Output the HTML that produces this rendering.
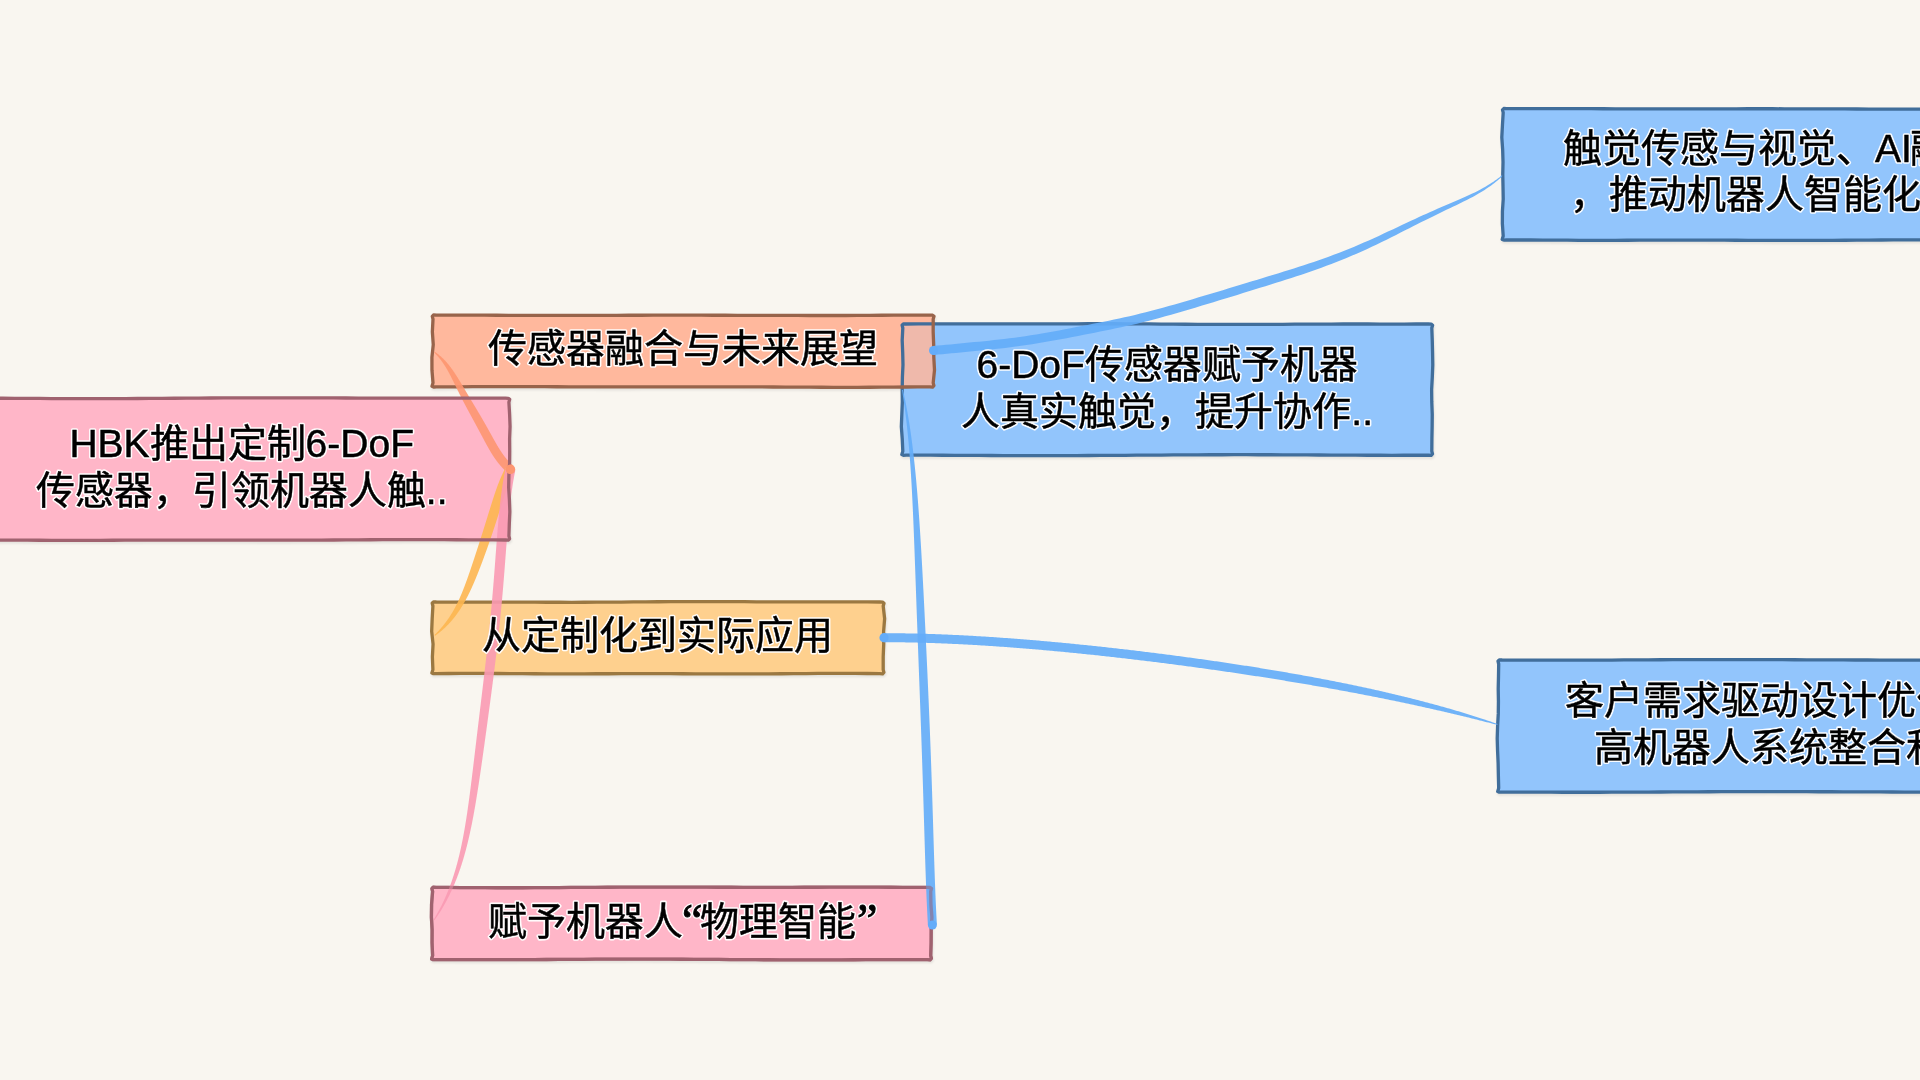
<!DOCTYPE html><html lang="zh-CN"><head><meta charset="utf-8"><title>mindmap</title><style>html,body{margin:0;padding:0;background:#f9f6f0;width:1920px;height:1080px;overflow:hidden}svg{display:block;will-change:transform}</style></head><body>
<svg width="1920" height="1080" viewBox="0 0 1920 1080">
<defs><filter id="blur" x="-5%" y="-20%" width="110%" height="140%"><feGaussianBlur stdDeviation="1"/></filter></defs>
<rect width="1920" height="1080" fill="#f9f6f0"/>
<path d="M-22.00,398.20 L-9.73,398.22 L2.53,398.25 L14.80,398.30 L27.07,398.37 L39.34,398.45 L51.60,398.54 L63.87,398.63 L76.14,398.66 L88.41,398.66 L100.67,398.65 L112.94,398.62 L125.21,398.57 L137.48,398.51 L149.74,398.44 L162.01,398.36 L174.28,398.27 L186.55,398.18 L198.81,398.10 L211.08,398.02 L223.35,397.95 L235.62,397.89 L247.88,397.85 L260.15,397.82 L272.42,397.81 L284.69,397.82 L296.95,397.83 L309.22,397.86 L321.49,397.90 L333.76,397.94 L346.02,397.99 L358.29,398.03 L370.56,398.08 L382.83,398.11 L395.09,398.14 L407.36,398.16 L419.63,398.17 L431.90,398.17 L444.16,398.18 L456.43,398.17 L468.70,398.18 L480.97,398.18 L493.23,398.19 L505.50,398.20 L508.30,398.30 L509.70,399.40 L508.90,402.20 L509.61,414.36 L510.07,426.53 L509.60,438.69 L509.71,450.85 L509.63,463.02 L508.89,475.18 L508.66,487.35 L509.40,499.51 L509.85,511.67 L509.31,523.84 L508.90,536.00 L509.60,538.80 L508.30,540.20 L505.50,540.00 L493.23,539.96 L480.97,539.90 L468.70,539.83 L456.43,539.74 L444.16,539.66 L431.90,539.60 L419.63,539.55 L407.36,539.58 L395.09,539.63 L382.83,539.69 L370.56,539.77 L358.29,539.84 L346.02,539.91 L333.76,539.98 L321.49,540.04 L309.22,540.08 L296.95,540.11 L284.69,540.13 L272.42,540.13 L260.15,540.13 L247.88,540.11 L235.62,540.09 L223.35,540.08 L211.08,540.06 L198.81,540.05 L186.55,540.05 L174.28,540.06 L162.01,540.08 L149.74,540.12 L137.48,540.16 L125.21,540.20 L112.94,540.25 L100.67,540.30 L88.41,540.34 L76.14,540.37 L63.87,540.37 L51.60,540.32 L39.34,540.25 L27.07,540.18 L14.80,540.11 L2.53,540.06 L-9.73,540.02 L-22.00,540.00 L-24.80,540.10 L-26.40,539.40 L-25.40,536.00 L-25.75,523.84 L-26.17,511.67 L-26.14,499.51 L-25.43,487.35 L-25.12,475.18 L-25.75,463.02 L-26.22,450.85 L-26.05,438.69 L-26.18,426.53 L-26.14,414.36 L-25.40,402.20 L-26.10,399.40 L-24.80,398.00Z" fill="none" stroke="#000" stroke-opacity="0.09" stroke-width="3" transform="translate(0.8,2)" filter="url(#blur)"/>
<path d="M906.20,324.00 L918.34,323.94 L930.49,323.89 L942.63,323.84 L954.78,323.82 L966.92,323.82 L979.07,323.83 L991.21,323.86 L1003.35,323.90 L1015.50,323.92 L1027.64,323.93 L1039.79,323.91 L1051.93,323.88 L1064.07,323.84 L1076.22,323.80 L1088.36,323.77 L1100.51,323.76 L1112.65,323.77 L1124.80,323.80 L1136.94,323.86 L1149.08,323.94 L1161.23,324.03 L1173.37,324.13 L1185.52,324.24 L1197.66,324.33 L1209.80,324.40 L1221.95,324.45 L1234.09,324.47 L1246.24,324.46 L1258.38,324.42 L1270.53,324.36 L1282.67,324.29 L1294.81,324.22 L1306.96,324.14 L1319.10,324.08 L1331.25,324.04 L1343.39,324.02 L1355.53,324.01 L1367.68,324.02 L1379.82,324.03 L1391.97,324.04 L1404.11,324.03 L1416.26,324.02 L1428.40,324.00 L1431.20,324.10 L1432.60,325.20 L1431.80,328.00 L1432.26,340.32 L1432.56,352.64 L1432.78,364.96 L1432.30,377.28 L1431.62,389.60 L1431.77,401.92 L1432.25,414.24 L1432.14,426.56 L1431.90,438.88 L1431.80,451.20 L1432.50,454.00 L1431.20,455.40 L1428.40,455.20 L1416.26,455.23 L1404.11,455.26 L1391.97,455.28 L1379.82,455.27 L1367.68,455.25 L1355.53,455.20 L1343.39,455.14 L1331.25,455.06 L1319.10,454.99 L1306.96,454.92 L1294.81,454.85 L1282.67,454.80 L1270.53,454.76 L1258.38,454.73 L1246.24,454.71 L1234.09,454.72 L1221.95,454.74 L1209.80,454.77 L1197.66,454.82 L1185.52,454.89 L1173.37,454.96 L1161.23,455.04 L1149.08,455.12 L1136.94,455.21 L1124.80,455.29 L1112.65,455.37 L1100.51,455.44 L1088.36,455.50 L1076.22,455.55 L1064.07,455.58 L1051.93,455.60 L1039.79,455.60 L1027.64,455.59 L1015.50,455.57 L1003.35,455.54 L991.21,455.49 L979.07,455.41 L966.92,455.34 L954.78,455.28 L942.63,455.24 L930.49,455.22 L918.34,455.20 L906.20,455.20 L903.40,455.30 L901.80,454.60 L902.80,451.20 L902.25,438.88 L901.33,426.56 L901.83,414.24 L902.33,401.92 L902.20,389.60 L902.41,377.28 L902.98,364.96 L902.70,352.64 L902.19,340.32 L902.80,328.00 L902.10,325.20 L903.40,323.80Z" fill="none" stroke="#000" stroke-opacity="0.09" stroke-width="3" transform="translate(0.8,2)" filter="url(#blur)"/>
<path d="M1506.60,108.70 L1518.68,108.64 L1530.76,108.60 L1542.84,108.57 L1554.92,108.56 L1567.00,108.58 L1579.07,108.62 L1591.15,108.67 L1603.23,108.74 L1615.31,108.79 L1627.39,108.83 L1639.47,108.86 L1651.55,108.88 L1663.63,108.89 L1675.71,108.89 L1687.79,108.87 L1699.87,108.85 L1711.94,108.83 L1724.02,108.81 L1736.10,108.79 L1748.18,108.77 L1760.26,108.77 L1772.34,108.77 L1784.42,108.78 L1796.50,108.80 L1808.58,108.83 L1820.66,108.87 L1832.73,108.91 L1844.81,108.95 L1856.89,109.00 L1868.97,109.04 L1881.05,109.07 L1893.13,109.09 L1905.21,109.10 L1917.29,109.10 L1929.37,109.08 L1941.45,109.03 L1953.53,108.94 L1965.60,108.86 L1977.68,108.79 L1989.76,108.73 L2001.84,108.70 L2013.92,108.69 L2026.00,108.70 L2028.80,108.80 L2030.20,109.90 L2029.40,112.70 L2029.61,125.03 L2029.11,137.36 L2029.62,149.69 L2030.16,162.02 L2029.97,174.35 L2030.29,186.68 L2030.87,199.01 L2030.33,211.34 L2029.51,223.67 L2029.40,236.00 L2030.10,238.80 L2028.80,240.20 L2026.00,240.00 L2013.92,240.00 L2001.84,239.99 L1989.76,239.97 L1977.68,239.94 L1965.60,239.90 L1953.53,239.85 L1941.45,239.81 L1929.37,239.80 L1917.29,239.81 L1905.21,239.85 L1893.13,239.91 L1881.05,239.99 L1868.97,240.08 L1856.89,240.17 L1844.81,240.25 L1832.73,240.33 L1820.66,240.39 L1808.58,240.42 L1796.50,240.44 L1784.42,240.43 L1772.34,240.39 L1760.26,240.35 L1748.18,240.29 L1736.10,240.23 L1724.02,240.17 L1711.94,240.13 L1699.87,240.10 L1687.79,240.09 L1675.71,240.10 L1663.63,240.13 L1651.55,240.17 L1639.47,240.22 L1627.39,240.27 L1615.31,240.31 L1603.23,240.34 L1591.15,240.34 L1579.07,240.28 L1567.00,240.21 L1554.92,240.14 L1542.84,240.07 L1530.76,240.02 L1518.68,240.00 L1506.60,240.00 L1503.80,240.10 L1502.20,239.40 L1503.20,236.00 L1502.37,223.67 L1502.43,211.34 L1503.23,199.01 L1503.02,186.68 L1502.77,174.35 L1503.03,162.02 L1502.66,149.69 L1501.81,137.36 L1502.46,125.03 L1503.20,112.70 L1502.50,109.90 L1503.80,108.50Z" fill="none" stroke="#000" stroke-opacity="0.09" stroke-width="3" transform="translate(0.8,2)" filter="url(#blur)"/>
<path d="M1502.10,660.00 L1514.28,660.06 L1526.47,660.12 L1538.65,660.17 L1550.83,660.20 L1563.02,660.22 L1575.20,660.21 L1587.39,660.18 L1599.57,660.11 L1611.75,660.03 L1623.94,659.95 L1636.12,659.87 L1648.30,659.80 L1660.49,659.73 L1672.67,659.67 L1684.86,659.62 L1697.04,659.59 L1709.22,659.56 L1721.41,659.56 L1733.59,659.56 L1745.77,659.58 L1757.96,659.61 L1770.14,659.65 L1782.33,659.69 L1794.51,659.75 L1806.69,659.80 L1818.88,659.85 L1831.06,659.90 L1843.24,659.95 L1855.43,659.99 L1867.61,660.02 L1879.80,660.05 L1891.98,660.07 L1904.16,660.08 L1916.35,660.08 L1928.53,660.08 L1940.71,660.07 L1952.90,660.05 L1965.08,660.03 L1977.27,660.02 L1989.45,660.01 L2001.63,660.01 L2013.82,660.00 L2026.00,660.00 L2028.80,660.10 L2030.20,661.20 L2029.40,664.00 L2030.14,676.41 L2030.75,688.82 L2030.24,701.23 L2030.19,713.64 L2030.46,726.05 L2030.02,738.46 L2029.28,750.87 L2029.37,763.28 L2029.66,775.69 L2029.40,788.10 L2030.10,790.90 L2028.80,792.30 L2026.00,792.10 L2013.82,792.08 L2001.63,792.07 L1989.45,792.07 L1977.27,792.07 L1965.08,792.07 L1952.90,792.08 L1940.71,792.08 L1928.53,792.07 L1916.35,792.06 L1904.16,792.03 L1891.98,792.00 L1879.80,791.96 L1867.61,791.92 L1855.43,791.87 L1843.24,791.82 L1831.06,791.77 L1818.88,791.73 L1806.69,791.69 L1794.51,791.66 L1782.33,791.64 L1770.14,791.62 L1757.96,791.63 L1745.77,791.64 L1733.59,791.67 L1721.41,791.70 L1709.22,791.75 L1697.04,791.81 L1684.86,791.87 L1672.67,791.93 L1660.49,792.00 L1648.30,792.06 L1636.12,792.12 L1623.94,792.17 L1611.75,792.21 L1599.57,792.25 L1587.39,792.27 L1575.20,792.25 L1563.02,792.23 L1550.83,792.20 L1538.65,792.17 L1526.47,792.14 L1514.28,792.12 L1502.10,792.10 L1499.30,792.20 L1497.70,791.50 L1498.70,788.10 L1498.38,775.69 L1498.13,763.28 L1497.58,750.87 L1497.21,738.46 L1497.61,726.05 L1498.29,713.64 L1498.44,701.23 L1498.22,688.82 L1498.50,676.41 L1498.70,664.00 L1498.00,661.20 L1499.30,659.80Z" fill="none" stroke="#000" stroke-opacity="0.09" stroke-width="3" transform="translate(0.8,2)" filter="url(#blur)"/>
<path d="M436.30,602.00 L448.62,602.03 L460.94,602.04 L473.26,602.05 L485.58,602.05 L497.90,602.07 L510.22,602.12 L522.54,602.16 L534.86,602.20 L547.17,602.24 L559.49,602.27 L571.81,602.28 L584.13,602.26 L596.45,602.21 L608.77,602.14 L621.09,602.05 L633.41,601.95 L645.73,601.84 L658.05,601.74 L670.37,601.66 L682.69,601.61 L695.01,601.58 L707.33,601.58 L719.65,601.61 L731.97,601.66 L744.29,601.72 L756.61,601.78 L768.92,601.84 L781.24,601.88 L793.56,601.91 L805.88,601.91 L818.20,601.91 L830.52,601.91 L842.84,601.91 L855.16,601.92 L867.48,601.95 L879.80,602.00 L882.60,602.10 L884.00,603.20 L883.20,606.00 L884.64,618.72 L883.61,631.44 L883.72,644.16 L883.20,656.88 L883.20,669.60 L883.90,672.40 L882.60,673.80 L879.80,673.60 L867.48,673.52 L855.16,673.45 L842.84,673.42 L830.52,673.42 L818.20,673.46 L805.88,673.54 L793.56,673.65 L781.24,673.74 L768.92,673.81 L756.61,673.86 L744.29,673.89 L731.97,673.89 L719.65,673.87 L707.33,673.84 L695.01,673.80 L682.69,673.76 L670.37,673.72 L658.05,673.70 L645.73,673.69 L633.41,673.70 L621.09,673.72 L608.77,673.74 L596.45,673.77 L584.13,673.79 L571.81,673.81 L559.49,673.80 L547.17,673.78 L534.86,673.73 L522.54,673.66 L510.22,673.58 L497.90,673.50 L485.58,673.45 L473.26,673.44 L460.94,673.47 L448.62,673.52 L436.30,673.60 L433.50,673.70 L431.90,673.00 L432.90,669.60 L432.39,656.88 L433.06,644.16 L431.68,631.44 L432.19,618.72 L432.90,606.00 L432.20,603.20 L433.50,601.80Z" fill="none" stroke="#000" stroke-opacity="0.09" stroke-width="3" transform="translate(0.8,2)" filter="url(#blur)"/>
<path d="M436.00,887.40 L448.28,887.47 L460.56,887.54 L472.85,887.62 L485.13,887.69 L497.41,887.74 L509.69,887.77 L521.98,887.75 L534.26,887.69 L546.54,887.62 L558.83,887.54 L571.11,887.46 L583.39,887.38 L595.67,887.32 L607.95,887.26 L620.24,887.21 L632.52,887.17 L644.80,887.15 L657.09,887.15 L669.37,887.15 L681.65,887.17 L693.93,887.19 L706.21,887.21 L718.50,887.24 L730.78,887.27 L743.06,887.29 L755.35,887.30 L767.63,887.31 L779.91,887.30 L792.19,887.29 L804.47,887.27 L816.76,887.24 L829.04,887.20 L841.32,887.16 L853.61,887.15 L865.89,887.17 L878.17,887.20 L890.45,887.24 L902.73,887.29 L915.02,887.35 L927.30,887.40 L930.10,887.50 L931.50,888.60 L930.70,891.40 L930.89,904.24 L931.91,917.08 L931.20,929.92 L931.13,942.76 L930.70,955.60 L931.40,958.40 L930.10,959.80 L927.30,959.60 L915.02,959.61 L902.73,959.63 L890.45,959.65 L878.17,959.68 L865.89,959.72 L853.61,959.77 L841.32,959.82 L829.04,959.84 L816.76,959.85 L804.47,959.85 L792.19,959.84 L779.91,959.81 L767.63,959.76 L755.35,959.70 L743.06,959.63 L730.78,959.55 L718.50,959.47 L706.21,959.38 L693.93,959.30 L681.65,959.23 L669.37,959.18 L657.09,959.14 L644.80,959.12 L632.52,959.11 L620.24,959.13 L607.95,959.17 L595.67,959.22 L583.39,959.28 L571.11,959.35 L558.83,959.42 L546.54,959.49 L534.26,959.55 L521.98,959.61 L509.69,959.65 L497.41,959.66 L485.13,959.66 L472.85,959.65 L460.56,959.63 L448.28,959.61 L436.00,959.60 L433.20,959.70 L431.60,959.00 L432.60,955.60 L432.05,942.76 L432.11,929.92 L431.40,917.08 L431.57,904.24 L432.60,891.40 L431.90,888.60 L433.20,887.20Z" fill="none" stroke="#000" stroke-opacity="0.09" stroke-width="3" transform="translate(0.8,2)" filter="url(#blur)"/>
<path d="M436.40,315.10 L448.43,315.09 L460.47,315.10 L472.50,315.13 L484.54,315.18 L496.57,315.24 L508.60,315.31 L520.64,315.38 L532.67,315.40 L544.71,315.42 L556.74,315.42 L568.78,315.41 L580.81,315.39 L592.84,315.37 L604.88,315.34 L616.91,315.31 L628.95,315.27 L640.98,315.24 L653.01,315.22 L665.05,315.20 L677.08,315.19 L689.12,315.20 L701.15,315.21 L713.19,315.23 L725.22,315.26 L737.25,315.29 L749.29,315.33 L761.32,315.37 L773.36,315.41 L785.39,315.44 L797.42,315.47 L809.46,315.49 L821.49,315.50 L833.53,315.50 L845.56,315.48 L857.60,315.41 L869.63,315.33 L881.66,315.25 L893.70,315.19 L905.73,315.14 L917.77,315.11 L929.80,315.10 L932.60,315.20 L934.00,316.30 L933.20,319.10 L933.17,331.86 L933.68,344.62 L933.81,357.38 L934.50,370.14 L933.20,382.90 L933.90,385.70 L932.60,387.10 L929.80,386.90 L917.77,386.95 L905.73,387.02 L893.70,387.10 L881.66,387.17 L869.63,387.24 L857.60,387.30 L845.56,387.32 L833.53,387.28 L821.49,387.23 L809.46,387.17 L797.42,387.11 L785.39,387.05 L773.36,386.99 L761.32,386.93 L749.29,386.89 L737.25,386.85 L725.22,386.83 L713.19,386.82 L701.15,386.81 L689.12,386.82 L677.08,386.83 L665.05,386.84 L653.01,386.86 L640.98,386.87 L628.95,386.88 L616.91,386.88 L604.88,386.88 L592.84,386.86 L580.81,386.84 L568.78,386.81 L556.74,386.77 L544.71,386.72 L532.67,386.67 L520.64,386.63 L508.60,386.62 L496.57,386.64 L484.54,386.67 L472.50,386.72 L460.47,386.78 L448.43,386.84 L436.40,386.90 L433.60,387.00 L432.00,386.30 L433.00,382.90 L431.97,370.14 L431.93,357.38 L433.26,344.62 L432.37,331.86 L433.00,319.10 L432.30,316.30 L433.60,314.90Z" fill="none" stroke="#000" stroke-opacity="0.09" stroke-width="3" transform="translate(0.8,2)" filter="url(#blur)"/>
<path d="M-22.00,398.20 L-9.73,398.22 L2.53,398.25 L14.80,398.30 L27.07,398.37 L39.34,398.45 L51.60,398.54 L63.87,398.63 L76.14,398.66 L88.41,398.66 L100.67,398.65 L112.94,398.62 L125.21,398.57 L137.48,398.51 L149.74,398.44 L162.01,398.36 L174.28,398.27 L186.55,398.18 L198.81,398.10 L211.08,398.02 L223.35,397.95 L235.62,397.89 L247.88,397.85 L260.15,397.82 L272.42,397.81 L284.69,397.82 L296.95,397.83 L309.22,397.86 L321.49,397.90 L333.76,397.94 L346.02,397.99 L358.29,398.03 L370.56,398.08 L382.83,398.11 L395.09,398.14 L407.36,398.16 L419.63,398.17 L431.90,398.17 L444.16,398.18 L456.43,398.17 L468.70,398.18 L480.97,398.18 L493.23,398.19 L505.50,398.20 L508.30,398.30 L509.70,399.40 L508.90,402.20 L509.61,414.36 L510.07,426.53 L509.60,438.69 L509.71,450.85 L509.63,463.02 L508.89,475.18 L508.66,487.35 L509.40,499.51 L509.85,511.67 L509.31,523.84 L508.90,536.00 L509.60,538.80 L508.30,540.20 L505.50,540.00 L493.23,539.96 L480.97,539.90 L468.70,539.83 L456.43,539.74 L444.16,539.66 L431.90,539.60 L419.63,539.55 L407.36,539.58 L395.09,539.63 L382.83,539.69 L370.56,539.77 L358.29,539.84 L346.02,539.91 L333.76,539.98 L321.49,540.04 L309.22,540.08 L296.95,540.11 L284.69,540.13 L272.42,540.13 L260.15,540.13 L247.88,540.11 L235.62,540.09 L223.35,540.08 L211.08,540.06 L198.81,540.05 L186.55,540.05 L174.28,540.06 L162.01,540.08 L149.74,540.12 L137.48,540.16 L125.21,540.20 L112.94,540.25 L100.67,540.30 L88.41,540.34 L76.14,540.37 L63.87,540.37 L51.60,540.32 L39.34,540.25 L27.07,540.18 L14.80,540.11 L2.53,540.06 L-9.73,540.02 L-22.00,540.00 L-24.80,540.10 L-26.40,539.40 L-25.40,536.00 L-25.75,523.84 L-26.17,511.67 L-26.14,499.51 L-25.43,487.35 L-25.12,475.18 L-25.75,463.02 L-26.22,450.85 L-26.05,438.69 L-26.18,426.53 L-26.14,414.36 L-25.40,402.20 L-26.10,399.40 L-24.80,398.00Z" fill="#ffb6c8"/>
<path d="M906.20,324.00 L918.34,323.94 L930.49,323.89 L942.63,323.84 L954.78,323.82 L966.92,323.82 L979.07,323.83 L991.21,323.86 L1003.35,323.90 L1015.50,323.92 L1027.64,323.93 L1039.79,323.91 L1051.93,323.88 L1064.07,323.84 L1076.22,323.80 L1088.36,323.77 L1100.51,323.76 L1112.65,323.77 L1124.80,323.80 L1136.94,323.86 L1149.08,323.94 L1161.23,324.03 L1173.37,324.13 L1185.52,324.24 L1197.66,324.33 L1209.80,324.40 L1221.95,324.45 L1234.09,324.47 L1246.24,324.46 L1258.38,324.42 L1270.53,324.36 L1282.67,324.29 L1294.81,324.22 L1306.96,324.14 L1319.10,324.08 L1331.25,324.04 L1343.39,324.02 L1355.53,324.01 L1367.68,324.02 L1379.82,324.03 L1391.97,324.04 L1404.11,324.03 L1416.26,324.02 L1428.40,324.00 L1431.20,324.10 L1432.60,325.20 L1431.80,328.00 L1432.26,340.32 L1432.56,352.64 L1432.78,364.96 L1432.30,377.28 L1431.62,389.60 L1431.77,401.92 L1432.25,414.24 L1432.14,426.56 L1431.90,438.88 L1431.80,451.20 L1432.50,454.00 L1431.20,455.40 L1428.40,455.20 L1416.26,455.23 L1404.11,455.26 L1391.97,455.28 L1379.82,455.27 L1367.68,455.25 L1355.53,455.20 L1343.39,455.14 L1331.25,455.06 L1319.10,454.99 L1306.96,454.92 L1294.81,454.85 L1282.67,454.80 L1270.53,454.76 L1258.38,454.73 L1246.24,454.71 L1234.09,454.72 L1221.95,454.74 L1209.80,454.77 L1197.66,454.82 L1185.52,454.89 L1173.37,454.96 L1161.23,455.04 L1149.08,455.12 L1136.94,455.21 L1124.80,455.29 L1112.65,455.37 L1100.51,455.44 L1088.36,455.50 L1076.22,455.55 L1064.07,455.58 L1051.93,455.60 L1039.79,455.60 L1027.64,455.59 L1015.50,455.57 L1003.35,455.54 L991.21,455.49 L979.07,455.41 L966.92,455.34 L954.78,455.28 L942.63,455.24 L930.49,455.22 L918.34,455.20 L906.20,455.20 L903.40,455.30 L901.80,454.60 L902.80,451.20 L902.25,438.88 L901.33,426.56 L901.83,414.24 L902.33,401.92 L902.20,389.60 L902.41,377.28 L902.98,364.96 L902.70,352.64 L902.19,340.32 L902.80,328.00 L902.10,325.20 L903.40,323.80Z" fill="#92c5fc"/>
<path d="M1506.60,108.70 L1518.68,108.64 L1530.76,108.60 L1542.84,108.57 L1554.92,108.56 L1567.00,108.58 L1579.07,108.62 L1591.15,108.67 L1603.23,108.74 L1615.31,108.79 L1627.39,108.83 L1639.47,108.86 L1651.55,108.88 L1663.63,108.89 L1675.71,108.89 L1687.79,108.87 L1699.87,108.85 L1711.94,108.83 L1724.02,108.81 L1736.10,108.79 L1748.18,108.77 L1760.26,108.77 L1772.34,108.77 L1784.42,108.78 L1796.50,108.80 L1808.58,108.83 L1820.66,108.87 L1832.73,108.91 L1844.81,108.95 L1856.89,109.00 L1868.97,109.04 L1881.05,109.07 L1893.13,109.09 L1905.21,109.10 L1917.29,109.10 L1929.37,109.08 L1941.45,109.03 L1953.53,108.94 L1965.60,108.86 L1977.68,108.79 L1989.76,108.73 L2001.84,108.70 L2013.92,108.69 L2026.00,108.70 L2028.80,108.80 L2030.20,109.90 L2029.40,112.70 L2029.61,125.03 L2029.11,137.36 L2029.62,149.69 L2030.16,162.02 L2029.97,174.35 L2030.29,186.68 L2030.87,199.01 L2030.33,211.34 L2029.51,223.67 L2029.40,236.00 L2030.10,238.80 L2028.80,240.20 L2026.00,240.00 L2013.92,240.00 L2001.84,239.99 L1989.76,239.97 L1977.68,239.94 L1965.60,239.90 L1953.53,239.85 L1941.45,239.81 L1929.37,239.80 L1917.29,239.81 L1905.21,239.85 L1893.13,239.91 L1881.05,239.99 L1868.97,240.08 L1856.89,240.17 L1844.81,240.25 L1832.73,240.33 L1820.66,240.39 L1808.58,240.42 L1796.50,240.44 L1784.42,240.43 L1772.34,240.39 L1760.26,240.35 L1748.18,240.29 L1736.10,240.23 L1724.02,240.17 L1711.94,240.13 L1699.87,240.10 L1687.79,240.09 L1675.71,240.10 L1663.63,240.13 L1651.55,240.17 L1639.47,240.22 L1627.39,240.27 L1615.31,240.31 L1603.23,240.34 L1591.15,240.34 L1579.07,240.28 L1567.00,240.21 L1554.92,240.14 L1542.84,240.07 L1530.76,240.02 L1518.68,240.00 L1506.60,240.00 L1503.80,240.10 L1502.20,239.40 L1503.20,236.00 L1502.37,223.67 L1502.43,211.34 L1503.23,199.01 L1503.02,186.68 L1502.77,174.35 L1503.03,162.02 L1502.66,149.69 L1501.81,137.36 L1502.46,125.03 L1503.20,112.70 L1502.50,109.90 L1503.80,108.50Z" fill="#92c5fc"/>
<path d="M1502.10,660.00 L1514.28,660.06 L1526.47,660.12 L1538.65,660.17 L1550.83,660.20 L1563.02,660.22 L1575.20,660.21 L1587.39,660.18 L1599.57,660.11 L1611.75,660.03 L1623.94,659.95 L1636.12,659.87 L1648.30,659.80 L1660.49,659.73 L1672.67,659.67 L1684.86,659.62 L1697.04,659.59 L1709.22,659.56 L1721.41,659.56 L1733.59,659.56 L1745.77,659.58 L1757.96,659.61 L1770.14,659.65 L1782.33,659.69 L1794.51,659.75 L1806.69,659.80 L1818.88,659.85 L1831.06,659.90 L1843.24,659.95 L1855.43,659.99 L1867.61,660.02 L1879.80,660.05 L1891.98,660.07 L1904.16,660.08 L1916.35,660.08 L1928.53,660.08 L1940.71,660.07 L1952.90,660.05 L1965.08,660.03 L1977.27,660.02 L1989.45,660.01 L2001.63,660.01 L2013.82,660.00 L2026.00,660.00 L2028.80,660.10 L2030.20,661.20 L2029.40,664.00 L2030.14,676.41 L2030.75,688.82 L2030.24,701.23 L2030.19,713.64 L2030.46,726.05 L2030.02,738.46 L2029.28,750.87 L2029.37,763.28 L2029.66,775.69 L2029.40,788.10 L2030.10,790.90 L2028.80,792.30 L2026.00,792.10 L2013.82,792.08 L2001.63,792.07 L1989.45,792.07 L1977.27,792.07 L1965.08,792.07 L1952.90,792.08 L1940.71,792.08 L1928.53,792.07 L1916.35,792.06 L1904.16,792.03 L1891.98,792.00 L1879.80,791.96 L1867.61,791.92 L1855.43,791.87 L1843.24,791.82 L1831.06,791.77 L1818.88,791.73 L1806.69,791.69 L1794.51,791.66 L1782.33,791.64 L1770.14,791.62 L1757.96,791.63 L1745.77,791.64 L1733.59,791.67 L1721.41,791.70 L1709.22,791.75 L1697.04,791.81 L1684.86,791.87 L1672.67,791.93 L1660.49,792.00 L1648.30,792.06 L1636.12,792.12 L1623.94,792.17 L1611.75,792.21 L1599.57,792.25 L1587.39,792.27 L1575.20,792.25 L1563.02,792.23 L1550.83,792.20 L1538.65,792.17 L1526.47,792.14 L1514.28,792.12 L1502.10,792.10 L1499.30,792.20 L1497.70,791.50 L1498.70,788.10 L1498.38,775.69 L1498.13,763.28 L1497.58,750.87 L1497.21,738.46 L1497.61,726.05 L1498.29,713.64 L1498.44,701.23 L1498.22,688.82 L1498.50,676.41 L1498.70,664.00 L1498.00,661.20 L1499.30,659.80Z" fill="#92c5fc"/>
<path d="M436.30,602.00 L448.62,602.03 L460.94,602.04 L473.26,602.05 L485.58,602.05 L497.90,602.07 L510.22,602.12 L522.54,602.16 L534.86,602.20 L547.17,602.24 L559.49,602.27 L571.81,602.28 L584.13,602.26 L596.45,602.21 L608.77,602.14 L621.09,602.05 L633.41,601.95 L645.73,601.84 L658.05,601.74 L670.37,601.66 L682.69,601.61 L695.01,601.58 L707.33,601.58 L719.65,601.61 L731.97,601.66 L744.29,601.72 L756.61,601.78 L768.92,601.84 L781.24,601.88 L793.56,601.91 L805.88,601.91 L818.20,601.91 L830.52,601.91 L842.84,601.91 L855.16,601.92 L867.48,601.95 L879.80,602.00 L882.60,602.10 L884.00,603.20 L883.20,606.00 L884.64,618.72 L883.61,631.44 L883.72,644.16 L883.20,656.88 L883.20,669.60 L883.90,672.40 L882.60,673.80 L879.80,673.60 L867.48,673.52 L855.16,673.45 L842.84,673.42 L830.52,673.42 L818.20,673.46 L805.88,673.54 L793.56,673.65 L781.24,673.74 L768.92,673.81 L756.61,673.86 L744.29,673.89 L731.97,673.89 L719.65,673.87 L707.33,673.84 L695.01,673.80 L682.69,673.76 L670.37,673.72 L658.05,673.70 L645.73,673.69 L633.41,673.70 L621.09,673.72 L608.77,673.74 L596.45,673.77 L584.13,673.79 L571.81,673.81 L559.49,673.80 L547.17,673.78 L534.86,673.73 L522.54,673.66 L510.22,673.58 L497.90,673.50 L485.58,673.45 L473.26,673.44 L460.94,673.47 L448.62,673.52 L436.30,673.60 L433.50,673.70 L431.90,673.00 L432.90,669.60 L432.39,656.88 L433.06,644.16 L431.68,631.44 L432.19,618.72 L432.90,606.00 L432.20,603.20 L433.50,601.80Z" fill="#fed08e"/>
<path d="M436.00,887.40 L448.28,887.47 L460.56,887.54 L472.85,887.62 L485.13,887.69 L497.41,887.74 L509.69,887.77 L521.98,887.75 L534.26,887.69 L546.54,887.62 L558.83,887.54 L571.11,887.46 L583.39,887.38 L595.67,887.32 L607.95,887.26 L620.24,887.21 L632.52,887.17 L644.80,887.15 L657.09,887.15 L669.37,887.15 L681.65,887.17 L693.93,887.19 L706.21,887.21 L718.50,887.24 L730.78,887.27 L743.06,887.29 L755.35,887.30 L767.63,887.31 L779.91,887.30 L792.19,887.29 L804.47,887.27 L816.76,887.24 L829.04,887.20 L841.32,887.16 L853.61,887.15 L865.89,887.17 L878.17,887.20 L890.45,887.24 L902.73,887.29 L915.02,887.35 L927.30,887.40 L930.10,887.50 L931.50,888.60 L930.70,891.40 L930.89,904.24 L931.91,917.08 L931.20,929.92 L931.13,942.76 L930.70,955.60 L931.40,958.40 L930.10,959.80 L927.30,959.60 L915.02,959.61 L902.73,959.63 L890.45,959.65 L878.17,959.68 L865.89,959.72 L853.61,959.77 L841.32,959.82 L829.04,959.84 L816.76,959.85 L804.47,959.85 L792.19,959.84 L779.91,959.81 L767.63,959.76 L755.35,959.70 L743.06,959.63 L730.78,959.55 L718.50,959.47 L706.21,959.38 L693.93,959.30 L681.65,959.23 L669.37,959.18 L657.09,959.14 L644.80,959.12 L632.52,959.11 L620.24,959.13 L607.95,959.17 L595.67,959.22 L583.39,959.28 L571.11,959.35 L558.83,959.42 L546.54,959.49 L534.26,959.55 L521.98,959.61 L509.69,959.65 L497.41,959.66 L485.13,959.66 L472.85,959.65 L460.56,959.63 L448.28,959.61 L436.00,959.60 L433.20,959.70 L431.60,959.00 L432.60,955.60 L432.05,942.76 L432.11,929.92 L431.40,917.08 L431.57,904.24 L432.60,891.40 L431.90,888.60 L433.20,887.20Z" fill="#ffb6c8"/>
<path d="M436.40,315.10 L448.43,315.09 L460.47,315.10 L472.50,315.13 L484.54,315.18 L496.57,315.24 L508.60,315.31 L520.64,315.38 L532.67,315.40 L544.71,315.42 L556.74,315.42 L568.78,315.41 L580.81,315.39 L592.84,315.37 L604.88,315.34 L616.91,315.31 L628.95,315.27 L640.98,315.24 L653.01,315.22 L665.05,315.20 L677.08,315.19 L689.12,315.20 L701.15,315.21 L713.19,315.23 L725.22,315.26 L737.25,315.29 L749.29,315.33 L761.32,315.37 L773.36,315.41 L785.39,315.44 L797.42,315.47 L809.46,315.49 L821.49,315.50 L833.53,315.50 L845.56,315.48 L857.60,315.41 L869.63,315.33 L881.66,315.25 L893.70,315.19 L905.73,315.14 L917.77,315.11 L929.80,315.10 L932.60,315.20 L934.00,316.30 L933.20,319.10 L933.17,331.86 L933.68,344.62 L933.81,357.38 L934.50,370.14 L933.20,382.90 L933.90,385.70 L932.60,387.10 L929.80,386.90 L917.77,386.95 L905.73,387.02 L893.70,387.10 L881.66,387.17 L869.63,387.24 L857.60,387.30 L845.56,387.32 L833.53,387.28 L821.49,387.23 L809.46,387.17 L797.42,387.11 L785.39,387.05 L773.36,386.99 L761.32,386.93 L749.29,386.89 L737.25,386.85 L725.22,386.83 L713.19,386.82 L701.15,386.81 L689.12,386.82 L677.08,386.83 L665.05,386.84 L653.01,386.86 L640.98,386.87 L628.95,386.88 L616.91,386.88 L604.88,386.88 L592.84,386.86 L580.81,386.84 L568.78,386.81 L556.74,386.77 L544.71,386.72 L532.67,386.67 L520.64,386.63 L508.60,386.62 L496.57,386.64 L484.54,386.67 L472.50,386.72 L460.47,386.78 L448.43,386.84 L436.40,386.90 L433.60,387.00 L432.00,386.30 L433.00,382.90 L431.97,370.14 L431.93,357.38 L433.26,344.62 L432.37,331.86 L433.00,319.10 L432.30,316.30 L433.60,314.90Z" fill="#ffb89d"/>
<clipPath id="oc"><path d="M436.40,315.10 L448.43,315.09 L460.47,315.10 L472.50,315.13 L484.54,315.18 L496.57,315.24 L508.60,315.31 L520.64,315.38 L532.67,315.40 L544.71,315.42 L556.74,315.42 L568.78,315.41 L580.81,315.39 L592.84,315.37 L604.88,315.34 L616.91,315.31 L628.95,315.27 L640.98,315.24 L653.01,315.22 L665.05,315.20 L677.08,315.19 L689.12,315.20 L701.15,315.21 L713.19,315.23 L725.22,315.26 L737.25,315.29 L749.29,315.33 L761.32,315.37 L773.36,315.41 L785.39,315.44 L797.42,315.47 L809.46,315.49 L821.49,315.50 L833.53,315.50 L845.56,315.48 L857.60,315.41 L869.63,315.33 L881.66,315.25 L893.70,315.19 L905.73,315.14 L917.77,315.11 L929.80,315.10 L932.60,315.20 L934.00,316.30 L933.20,319.10 L933.17,331.86 L933.68,344.62 L933.81,357.38 L934.50,370.14 L933.20,382.90 L933.90,385.70 L932.60,387.10 L929.80,386.90 L917.77,386.95 L905.73,387.02 L893.70,387.10 L881.66,387.17 L869.63,387.24 L857.60,387.30 L845.56,387.32 L833.53,387.28 L821.49,387.23 L809.46,387.17 L797.42,387.11 L785.39,387.05 L773.36,386.99 L761.32,386.93 L749.29,386.89 L737.25,386.85 L725.22,386.83 L713.19,386.82 L701.15,386.81 L689.12,386.82 L677.08,386.83 L665.05,386.84 L653.01,386.86 L640.98,386.87 L628.95,386.88 L616.91,386.88 L604.88,386.88 L592.84,386.86 L580.81,386.84 L568.78,386.81 L556.74,386.77 L544.71,386.72 L532.67,386.67 L520.64,386.63 L508.60,386.62 L496.57,386.64 L484.54,386.67 L472.50,386.72 L460.47,386.78 L448.43,386.84 L436.40,386.90 L433.60,387.00 L432.00,386.30 L433.00,382.90 L431.97,370.14 L431.93,357.38 L433.26,344.62 L432.37,331.86 L433.00,319.10 L432.30,316.30 L433.60,314.90Z"/></clipPath>
<path d="M906.20,324.00 L918.34,323.94 L930.49,323.89 L942.63,323.84 L954.78,323.82 L966.92,323.82 L979.07,323.83 L991.21,323.86 L1003.35,323.90 L1015.50,323.92 L1027.64,323.93 L1039.79,323.91 L1051.93,323.88 L1064.07,323.84 L1076.22,323.80 L1088.36,323.77 L1100.51,323.76 L1112.65,323.77 L1124.80,323.80 L1136.94,323.86 L1149.08,323.94 L1161.23,324.03 L1173.37,324.13 L1185.52,324.24 L1197.66,324.33 L1209.80,324.40 L1221.95,324.45 L1234.09,324.47 L1246.24,324.46 L1258.38,324.42 L1270.53,324.36 L1282.67,324.29 L1294.81,324.22 L1306.96,324.14 L1319.10,324.08 L1331.25,324.04 L1343.39,324.02 L1355.53,324.01 L1367.68,324.02 L1379.82,324.03 L1391.97,324.04 L1404.11,324.03 L1416.26,324.02 L1428.40,324.00 L1431.20,324.10 L1432.60,325.20 L1431.80,328.00 L1432.26,340.32 L1432.56,352.64 L1432.78,364.96 L1432.30,377.28 L1431.62,389.60 L1431.77,401.92 L1432.25,414.24 L1432.14,426.56 L1431.90,438.88 L1431.80,451.20 L1432.50,454.00 L1431.20,455.40 L1428.40,455.20 L1416.26,455.23 L1404.11,455.26 L1391.97,455.28 L1379.82,455.27 L1367.68,455.25 L1355.53,455.20 L1343.39,455.14 L1331.25,455.06 L1319.10,454.99 L1306.96,454.92 L1294.81,454.85 L1282.67,454.80 L1270.53,454.76 L1258.38,454.73 L1246.24,454.71 L1234.09,454.72 L1221.95,454.74 L1209.80,454.77 L1197.66,454.82 L1185.52,454.89 L1173.37,454.96 L1161.23,455.04 L1149.08,455.12 L1136.94,455.21 L1124.80,455.29 L1112.65,455.37 L1100.51,455.44 L1088.36,455.50 L1076.22,455.55 L1064.07,455.58 L1051.93,455.60 L1039.79,455.60 L1027.64,455.59 L1015.50,455.57 L1003.35,455.54 L991.21,455.49 L979.07,455.41 L966.92,455.34 L954.78,455.28 L942.63,455.24 L930.49,455.22 L918.34,455.20 L906.20,455.20 L903.40,455.30 L901.80,454.60 L902.80,451.20 L902.25,438.88 L901.33,426.56 L901.83,414.24 L902.33,401.92 L902.20,389.60 L902.41,377.28 L902.98,364.96 L902.70,352.64 L902.19,340.32 L902.80,328.00 L902.10,325.20 L903.40,323.80Z" fill="#92c5fc" fill-opacity="0.15" clip-path="url(#oc)"/>
<path d="M906.20,324.00 L918.34,323.94 L930.49,323.89 L942.63,323.84 L954.78,323.82 L966.92,323.82 L979.07,323.83 L991.21,323.86 L1003.35,323.90 L1015.50,323.92 L1027.64,323.93 L1039.79,323.91 L1051.93,323.88 L1064.07,323.84 L1076.22,323.80 L1088.36,323.77 L1100.51,323.76 L1112.65,323.77 L1124.80,323.80 L1136.94,323.86 L1149.08,323.94 L1161.23,324.03 L1173.37,324.13 L1185.52,324.24 L1197.66,324.33 L1209.80,324.40 L1221.95,324.45 L1234.09,324.47 L1246.24,324.46 L1258.38,324.42 L1270.53,324.36 L1282.67,324.29 L1294.81,324.22 L1306.96,324.14 L1319.10,324.08 L1331.25,324.04 L1343.39,324.02 L1355.53,324.01 L1367.68,324.02 L1379.82,324.03 L1391.97,324.04 L1404.11,324.03 L1416.26,324.02 L1428.40,324.00 L1431.20,324.10 L1432.60,325.20 L1431.80,328.00 L1432.26,340.32 L1432.56,352.64 L1432.78,364.96 L1432.30,377.28 L1431.62,389.60 L1431.77,401.92 L1432.25,414.24 L1432.14,426.56 L1431.90,438.88 L1431.80,451.20 L1432.50,454.00 L1431.20,455.40 L1428.40,455.20 L1416.26,455.23 L1404.11,455.26 L1391.97,455.28 L1379.82,455.27 L1367.68,455.25 L1355.53,455.20 L1343.39,455.14 L1331.25,455.06 L1319.10,454.99 L1306.96,454.92 L1294.81,454.85 L1282.67,454.80 L1270.53,454.76 L1258.38,454.73 L1246.24,454.71 L1234.09,454.72 L1221.95,454.74 L1209.80,454.77 L1197.66,454.82 L1185.52,454.89 L1173.37,454.96 L1161.23,455.04 L1149.08,455.12 L1136.94,455.21 L1124.80,455.29 L1112.65,455.37 L1100.51,455.44 L1088.36,455.50 L1076.22,455.55 L1064.07,455.58 L1051.93,455.60 L1039.79,455.60 L1027.64,455.59 L1015.50,455.57 L1003.35,455.54 L991.21,455.49 L979.07,455.41 L966.92,455.34 L954.78,455.28 L942.63,455.24 L930.49,455.22 L918.34,455.20 L906.20,455.20 L903.40,455.30 L901.80,454.60 L902.80,451.20 L902.25,438.88 L901.33,426.56 L901.83,414.24 L902.33,401.92 L902.20,389.60 L902.41,377.28 L902.98,364.96 L902.70,352.64 L902.19,340.32 L902.80,328.00 L902.10,325.20 L903.40,323.80Z" fill="none" stroke="#416e9b" stroke-width="3.3" stroke-linejoin="round"/>
<path d="M1506.60,108.70 L1518.68,108.64 L1530.76,108.60 L1542.84,108.57 L1554.92,108.56 L1567.00,108.58 L1579.07,108.62 L1591.15,108.67 L1603.23,108.74 L1615.31,108.79 L1627.39,108.83 L1639.47,108.86 L1651.55,108.88 L1663.63,108.89 L1675.71,108.89 L1687.79,108.87 L1699.87,108.85 L1711.94,108.83 L1724.02,108.81 L1736.10,108.79 L1748.18,108.77 L1760.26,108.77 L1772.34,108.77 L1784.42,108.78 L1796.50,108.80 L1808.58,108.83 L1820.66,108.87 L1832.73,108.91 L1844.81,108.95 L1856.89,109.00 L1868.97,109.04 L1881.05,109.07 L1893.13,109.09 L1905.21,109.10 L1917.29,109.10 L1929.37,109.08 L1941.45,109.03 L1953.53,108.94 L1965.60,108.86 L1977.68,108.79 L1989.76,108.73 L2001.84,108.70 L2013.92,108.69 L2026.00,108.70 L2028.80,108.80 L2030.20,109.90 L2029.40,112.70 L2029.61,125.03 L2029.11,137.36 L2029.62,149.69 L2030.16,162.02 L2029.97,174.35 L2030.29,186.68 L2030.87,199.01 L2030.33,211.34 L2029.51,223.67 L2029.40,236.00 L2030.10,238.80 L2028.80,240.20 L2026.00,240.00 L2013.92,240.00 L2001.84,239.99 L1989.76,239.97 L1977.68,239.94 L1965.60,239.90 L1953.53,239.85 L1941.45,239.81 L1929.37,239.80 L1917.29,239.81 L1905.21,239.85 L1893.13,239.91 L1881.05,239.99 L1868.97,240.08 L1856.89,240.17 L1844.81,240.25 L1832.73,240.33 L1820.66,240.39 L1808.58,240.42 L1796.50,240.44 L1784.42,240.43 L1772.34,240.39 L1760.26,240.35 L1748.18,240.29 L1736.10,240.23 L1724.02,240.17 L1711.94,240.13 L1699.87,240.10 L1687.79,240.09 L1675.71,240.10 L1663.63,240.13 L1651.55,240.17 L1639.47,240.22 L1627.39,240.27 L1615.31,240.31 L1603.23,240.34 L1591.15,240.34 L1579.07,240.28 L1567.00,240.21 L1554.92,240.14 L1542.84,240.07 L1530.76,240.02 L1518.68,240.00 L1506.60,240.00 L1503.80,240.10 L1502.20,239.40 L1503.20,236.00 L1502.37,223.67 L1502.43,211.34 L1503.23,199.01 L1503.02,186.68 L1502.77,174.35 L1503.03,162.02 L1502.66,149.69 L1501.81,137.36 L1502.46,125.03 L1503.20,112.70 L1502.50,109.90 L1503.80,108.50Z" fill="none" stroke="#416e9b" stroke-width="3.3" stroke-linejoin="round"/>
<path d="M1502.10,660.00 L1514.28,660.06 L1526.47,660.12 L1538.65,660.17 L1550.83,660.20 L1563.02,660.22 L1575.20,660.21 L1587.39,660.18 L1599.57,660.11 L1611.75,660.03 L1623.94,659.95 L1636.12,659.87 L1648.30,659.80 L1660.49,659.73 L1672.67,659.67 L1684.86,659.62 L1697.04,659.59 L1709.22,659.56 L1721.41,659.56 L1733.59,659.56 L1745.77,659.58 L1757.96,659.61 L1770.14,659.65 L1782.33,659.69 L1794.51,659.75 L1806.69,659.80 L1818.88,659.85 L1831.06,659.90 L1843.24,659.95 L1855.43,659.99 L1867.61,660.02 L1879.80,660.05 L1891.98,660.07 L1904.16,660.08 L1916.35,660.08 L1928.53,660.08 L1940.71,660.07 L1952.90,660.05 L1965.08,660.03 L1977.27,660.02 L1989.45,660.01 L2001.63,660.01 L2013.82,660.00 L2026.00,660.00 L2028.80,660.10 L2030.20,661.20 L2029.40,664.00 L2030.14,676.41 L2030.75,688.82 L2030.24,701.23 L2030.19,713.64 L2030.46,726.05 L2030.02,738.46 L2029.28,750.87 L2029.37,763.28 L2029.66,775.69 L2029.40,788.10 L2030.10,790.90 L2028.80,792.30 L2026.00,792.10 L2013.82,792.08 L2001.63,792.07 L1989.45,792.07 L1977.27,792.07 L1965.08,792.07 L1952.90,792.08 L1940.71,792.08 L1928.53,792.07 L1916.35,792.06 L1904.16,792.03 L1891.98,792.00 L1879.80,791.96 L1867.61,791.92 L1855.43,791.87 L1843.24,791.82 L1831.06,791.77 L1818.88,791.73 L1806.69,791.69 L1794.51,791.66 L1782.33,791.64 L1770.14,791.62 L1757.96,791.63 L1745.77,791.64 L1733.59,791.67 L1721.41,791.70 L1709.22,791.75 L1697.04,791.81 L1684.86,791.87 L1672.67,791.93 L1660.49,792.00 L1648.30,792.06 L1636.12,792.12 L1623.94,792.17 L1611.75,792.21 L1599.57,792.25 L1587.39,792.27 L1575.20,792.25 L1563.02,792.23 L1550.83,792.20 L1538.65,792.17 L1526.47,792.14 L1514.28,792.12 L1502.10,792.10 L1499.30,792.20 L1497.70,791.50 L1498.70,788.10 L1498.38,775.69 L1498.13,763.28 L1497.58,750.87 L1497.21,738.46 L1497.61,726.05 L1498.29,713.64 L1498.44,701.23 L1498.22,688.82 L1498.50,676.41 L1498.70,664.00 L1498.00,661.20 L1499.30,659.80Z" fill="none" stroke="#416e9b" stroke-width="3.3" stroke-linejoin="round"/>
<path d="M436.30,602.00 L448.62,602.03 L460.94,602.04 L473.26,602.05 L485.58,602.05 L497.90,602.07 L510.22,602.12 L522.54,602.16 L534.86,602.20 L547.17,602.24 L559.49,602.27 L571.81,602.28 L584.13,602.26 L596.45,602.21 L608.77,602.14 L621.09,602.05 L633.41,601.95 L645.73,601.84 L658.05,601.74 L670.37,601.66 L682.69,601.61 L695.01,601.58 L707.33,601.58 L719.65,601.61 L731.97,601.66 L744.29,601.72 L756.61,601.78 L768.92,601.84 L781.24,601.88 L793.56,601.91 L805.88,601.91 L818.20,601.91 L830.52,601.91 L842.84,601.91 L855.16,601.92 L867.48,601.95 L879.80,602.00 L882.60,602.10 L884.00,603.20 L883.20,606.00 L884.64,618.72 L883.61,631.44 L883.72,644.16 L883.20,656.88 L883.20,669.60 L883.90,672.40 L882.60,673.80 L879.80,673.60 L867.48,673.52 L855.16,673.45 L842.84,673.42 L830.52,673.42 L818.20,673.46 L805.88,673.54 L793.56,673.65 L781.24,673.74 L768.92,673.81 L756.61,673.86 L744.29,673.89 L731.97,673.89 L719.65,673.87 L707.33,673.84 L695.01,673.80 L682.69,673.76 L670.37,673.72 L658.05,673.70 L645.73,673.69 L633.41,673.70 L621.09,673.72 L608.77,673.74 L596.45,673.77 L584.13,673.79 L571.81,673.81 L559.49,673.80 L547.17,673.78 L534.86,673.73 L522.54,673.66 L510.22,673.58 L497.90,673.50 L485.58,673.45 L473.26,673.44 L460.94,673.47 L448.62,673.52 L436.30,673.60 L433.50,673.70 L431.90,673.00 L432.90,669.60 L432.39,656.88 L433.06,644.16 L431.68,631.44 L432.19,618.72 L432.90,606.00 L432.20,603.20 L433.50,601.80Z" fill="none" stroke="#9b7841" stroke-width="3.3" stroke-linejoin="round"/>
<path d="M436.40,315.10 L448.43,315.09 L460.47,315.10 L472.50,315.13 L484.54,315.18 L496.57,315.24 L508.60,315.31 L520.64,315.38 L532.67,315.40 L544.71,315.42 L556.74,315.42 L568.78,315.41 L580.81,315.39 L592.84,315.37 L604.88,315.34 L616.91,315.31 L628.95,315.27 L640.98,315.24 L653.01,315.22 L665.05,315.20 L677.08,315.19 L689.12,315.20 L701.15,315.21 L713.19,315.23 L725.22,315.26 L737.25,315.29 L749.29,315.33 L761.32,315.37 L773.36,315.41 L785.39,315.44 L797.42,315.47 L809.46,315.49 L821.49,315.50 L833.53,315.50 L845.56,315.48 L857.60,315.41 L869.63,315.33 L881.66,315.25 L893.70,315.19 L905.73,315.14 L917.77,315.11 L929.80,315.10 L932.60,315.20 L934.00,316.30 L933.20,319.10 L933.17,331.86 L933.68,344.62 L933.81,357.38 L934.50,370.14 L933.20,382.90 L933.90,385.70 L932.60,387.10 L929.80,386.90 L917.77,386.95 L905.73,387.02 L893.70,387.10 L881.66,387.17 L869.63,387.24 L857.60,387.30 L845.56,387.32 L833.53,387.28 L821.49,387.23 L809.46,387.17 L797.42,387.11 L785.39,387.05 L773.36,386.99 L761.32,386.93 L749.29,386.89 L737.25,386.85 L725.22,386.83 L713.19,386.82 L701.15,386.81 L689.12,386.82 L677.08,386.83 L665.05,386.84 L653.01,386.86 L640.98,386.87 L628.95,386.88 L616.91,386.88 L604.88,386.88 L592.84,386.86 L580.81,386.84 L568.78,386.81 L556.74,386.77 L544.71,386.72 L532.67,386.67 L520.64,386.63 L508.60,386.62 L496.57,386.64 L484.54,386.67 L472.50,386.72 L460.47,386.78 L448.43,386.84 L436.40,386.90 L433.60,387.00 L432.00,386.30 L433.00,382.90 L431.97,370.14 L431.93,357.38 L433.26,344.62 L432.37,331.86 L433.00,319.10 L432.30,316.30 L433.60,314.90Z" fill="none" stroke="#98644b" stroke-width="3.3" stroke-linejoin="round"/>
<path d="M436.00,887.40 L448.28,887.47 L460.56,887.54 L472.85,887.62 L485.13,887.69 L497.41,887.74 L509.69,887.77 L521.98,887.75 L534.26,887.69 L546.54,887.62 L558.83,887.54 L571.11,887.46 L583.39,887.38 L595.67,887.32 L607.95,887.26 L620.24,887.21 L632.52,887.17 L644.80,887.15 L657.09,887.15 L669.37,887.15 L681.65,887.17 L693.93,887.19 L706.21,887.21 L718.50,887.24 L730.78,887.27 L743.06,887.29 L755.35,887.30 L767.63,887.31 L779.91,887.30 L792.19,887.29 L804.47,887.27 L816.76,887.24 L829.04,887.20 L841.32,887.16 L853.61,887.15 L865.89,887.17 L878.17,887.20 L890.45,887.24 L902.73,887.29 L915.02,887.35 L927.30,887.40 L930.10,887.50 L931.50,888.60 L930.70,891.40 L930.89,904.24 L931.91,917.08 L931.20,929.92 L931.13,942.76 L930.70,955.60 L931.40,958.40 L930.10,959.80 L927.30,959.60 L915.02,959.61 L902.73,959.63 L890.45,959.65 L878.17,959.68 L865.89,959.72 L853.61,959.77 L841.32,959.82 L829.04,959.84 L816.76,959.85 L804.47,959.85 L792.19,959.84 L779.91,959.81 L767.63,959.76 L755.35,959.70 L743.06,959.63 L730.78,959.55 L718.50,959.47 L706.21,959.38 L693.93,959.30 L681.65,959.23 L669.37,959.18 L657.09,959.14 L644.80,959.12 L632.52,959.11 L620.24,959.13 L607.95,959.17 L595.67,959.22 L583.39,959.28 L571.11,959.35 L558.83,959.42 L546.54,959.49 L534.26,959.55 L521.98,959.61 L509.69,959.65 L497.41,959.66 L485.13,959.66 L472.85,959.65 L460.56,959.63 L448.28,959.61 L436.00,959.60 L433.20,959.70 L431.60,959.00 L432.60,955.60 L432.05,942.76 L432.11,929.92 L431.40,917.08 L431.57,904.24 L432.60,891.40 L431.90,888.60 L433.20,887.20Z" fill="none" stroke="#a0626f" stroke-width="3.3" stroke-linejoin="round"/>
<path d="M513.45,466.00 L513.23,465.79 L512.97,465.55 L512.68,465.29 L512.36,464.99 L512.02,464.68 L511.67,464.35 L511.32,464.02 L510.98,463.70 L510.67,463.40 L510.37,463.11 L510.09,462.83 L509.82,462.55 L509.55,462.27 L509.28,461.99 L509.02,461.71 L508.75,461.43 L508.49,461.15 L508.23,460.87 L507.98,460.58 L507.73,460.30 L507.48,460.02 L507.23,459.74 L506.99,459.46 L506.75,459.18 L506.51,458.90 L506.28,458.62 L506.04,458.34 L505.81,458.05 L505.58,457.77 L505.35,457.49 L505.13,457.20 L504.91,456.92 L504.69,456.64 L504.47,456.36 L504.26,456.08 L504.04,455.79 L503.83,455.51 L503.62,455.22 L503.41,454.94 L503.20,454.65 L502.99,454.37 L502.79,454.09 L502.59,453.80 L502.39,453.52 L502.19,453.23 L501.99,452.95 L501.80,452.66 L501.60,452.37 L501.41,452.08 L501.21,451.80 L501.02,451.51 L500.83,451.22 L500.64,450.94 L500.46,450.65 L500.27,450.36 L500.09,450.07 L499.90,449.79 L499.72,449.49 L499.53,449.20 L499.35,448.91 L499.17,448.62 L498.99,448.34 L498.81,448.05 L498.63,447.76 L498.46,447.47 L498.28,447.18 L498.10,446.88 L497.93,446.59 L497.75,446.30 L497.58,446.01 L497.41,445.71 L497.23,445.42 L497.06,445.13 L496.89,444.84 L496.72,444.55 L496.55,444.25 L496.38,443.96 L496.21,443.66 L496.04,443.37 L495.87,443.07 L495.70,442.78 L495.53,442.49 L495.36,442.19 L495.20,441.90 L495.03,441.60 L494.86,441.31 L494.70,441.01 L494.53,440.72 L494.36,440.42 L494.20,440.12 L494.03,439.83 L493.86,439.53 L493.70,439.23 L493.53,438.94 L493.37,438.64 L493.20,438.34 L493.04,438.05 L492.87,437.75 L492.71,437.45 L492.54,437.15 L492.38,436.85 L492.21,436.56 L492.05,436.26 L491.88,435.96 L491.72,435.66 L491.55,435.37 L491.39,435.07 L491.22,434.77 L491.06,434.47 L490.89,434.17 L490.73,433.87 L490.56,433.57 L490.40,433.27 L490.23,432.97 L490.07,432.68 L489.90,432.38 L489.73,432.08 L489.57,431.78 L489.40,431.48 L489.24,431.18 L489.07,430.88 L488.90,430.58 L488.74,430.28 L488.57,429.98 L488.40,429.68 L488.24,429.38 L488.07,429.08 L487.90,428.78 L487.73,428.48 L487.57,428.18 L487.40,427.88 L487.23,427.58 L487.06,427.28 L486.89,426.98 L486.72,426.68 L486.56,426.38 L486.39,426.08 L486.22,425.78 L486.05,425.48 L485.88,425.18 L485.71,424.88 L485.54,424.58 L485.37,424.28 L485.20,423.98 L485.03,423.69 L484.86,423.39 L484.69,423.09 L484.51,422.79 L484.34,422.49 L484.17,422.19 L484.00,421.89 L483.83,421.59 L483.65,421.29 L483.48,420.99 L483.31,420.69 L483.14,420.39 L482.96,420.09 L482.79,419.79 L482.62,419.49 L482.44,419.19 L482.27,418.90 L482.10,418.60 L481.92,418.30 L481.75,418.00 L481.57,417.70 L481.40,417.40 L481.23,417.10 L481.05,416.80 L480.88,416.51 L480.70,416.21 L480.53,415.91 L480.35,415.61 L480.18,415.31 L480.00,415.01 L479.82,414.72 L479.65,414.42 L479.47,414.12 L479.30,413.82 L479.12,413.52 L478.94,413.23 L478.77,412.93 L478.59,412.63 L478.41,412.33 L478.24,412.04 L478.06,411.74 L477.88,411.44 L477.71,411.14 L477.53,410.85 L477.35,410.55 L477.18,410.25 L477.00,409.96 L476.82,409.66 L476.65,409.36 L476.47,409.07 L476.29,408.77 L476.11,408.47 L475.94,408.18 L475.76,407.88 L475.58,407.58 L475.41,407.29 L475.23,406.99 L475.05,406.70 L474.87,406.40 L474.70,406.10 L474.52,405.81 L474.34,405.51 L474.16,405.22 L473.99,404.92 L473.81,404.63 L473.63,404.33 L473.46,404.04 L473.28,403.74 L473.10,403.44 L472.93,403.15 L472.75,402.85 L472.57,402.56 L472.39,402.26 L472.22,401.97 L472.04,401.67 L471.86,401.38 L471.69,401.09 L471.51,400.79 L471.33,400.50 L471.16,400.20 L470.98,399.91 L470.81,399.61 L470.63,399.32 L470.45,399.02 L470.28,398.73 L470.10,398.44 L469.93,398.14 L469.75,397.85 L469.57,397.55 L469.40,397.26 L469.22,396.97 L469.05,396.67 L468.87,396.38 L468.70,396.08 L468.52,395.79 L468.35,395.50 L468.17,395.20 L468.00,394.91 L467.82,394.61 L467.65,394.32 L467.47,394.03 L467.30,393.73 L467.12,393.44 L466.95,393.15 L466.77,392.85 L466.60,392.56 L466.42,392.27 L466.25,391.97 L466.07,391.68 L465.90,391.39 L465.73,391.09 L465.55,390.80 L465.38,390.51 L465.20,390.21 L465.03,389.92 L464.85,389.63 L464.68,389.33 L464.50,389.04 L464.33,388.75 L464.16,388.45 L463.98,388.16 L463.81,387.87 L463.63,387.57 L463.46,387.28 L463.28,386.98 L463.11,386.69 L462.93,386.40 L462.76,386.10 L462.58,385.81 L462.41,385.52 L462.23,385.22 L462.06,384.93 L461.88,384.64 L461.71,384.34 L461.53,384.05 L461.36,383.75 L461.18,383.46 L461.00,383.17 L460.83,382.87 L460.65,382.58 L460.47,382.29 L460.30,381.99 L460.12,381.70 L459.94,381.40 L459.76,381.11 L459.58,380.81 L459.40,380.52 L459.22,380.23 L459.04,379.93 L458.86,379.64 L458.68,379.34 L458.50,379.05 L458.32,378.76 L458.14,378.46 L457.96,378.17 L457.77,377.87 L457.59,377.58 L457.40,377.28 L457.22,376.99 L457.03,376.69 L456.85,376.40 L456.66,376.10 L456.47,375.81 L456.29,375.51 L456.10,375.22 L455.91,374.92 L455.72,374.63 L455.52,374.34 L455.33,374.04 L455.14,373.75 L454.95,373.45 L454.75,373.16 L454.55,372.86 L454.36,372.57 L454.16,372.27 L453.96,371.97 L453.76,371.68 L453.56,371.39 L453.36,371.09 L453.15,370.80 L452.95,370.50 L452.74,370.21 L452.54,369.91 L452.33,369.62 L452.12,369.32 L451.90,369.03 L451.69,368.73 L451.48,368.44 L451.26,368.15 L451.04,367.85 L450.82,367.56 L450.60,367.26 L450.38,366.97 L450.16,366.67 L449.93,366.38 L449.70,366.09 L449.47,365.79 L449.24,365.50 L449.01,365.21 L448.77,364.91 L448.54,364.62 L448.30,364.33 L448.06,364.04 L447.81,363.74 L447.56,363.45 L447.32,363.16 L447.06,362.87 L446.81,362.58 L446.56,362.29 L446.30,362.00 L446.04,361.70 L445.78,361.41 L445.51,361.12 L445.24,360.83 L444.97,360.54 L444.70,360.25 L444.42,359.97 L444.14,359.68 L443.86,359.39 L443.58,359.10 L443.29,358.82 L443.00,358.53 L442.70,358.24 L442.41,357.96 L442.10,357.67 L441.80,357.39 L441.49,357.10 L441.18,356.82 L440.87,356.54 L440.55,356.26 L440.23,355.97 L439.90,355.69 L439.57,355.41 L439.24,355.13 L438.90,354.85 L438.55,354.56 L438.17,354.26 L437.78,353.96 L437.37,353.64 L436.96,353.33 L436.55,353.02 L436.16,352.73 L435.79,352.46 L435.47,352.22 L435.18,352.01 L434.93,351.82 L434.27,352.58 L434.49,352.80 L434.73,353.06 L435.01,353.35 L435.33,353.67 L435.66,354.03 L436.01,354.39 L436.37,354.77 L436.71,355.13 L437.04,355.49 L437.35,355.83 L437.64,356.16 L437.92,356.48 L438.20,356.80 L438.47,357.12 L438.74,357.43 L439.01,357.75 L439.27,358.07 L439.53,358.39 L439.79,358.71 L440.04,359.02 L440.29,359.34 L440.54,359.65 L440.78,359.97 L441.02,360.28 L441.25,360.60 L441.49,360.91 L441.72,361.22 L441.95,361.54 L442.18,361.85 L442.40,362.16 L442.62,362.47 L442.84,362.78 L443.06,363.09 L443.27,363.40 L443.48,363.71 L443.69,364.02 L443.90,364.33 L444.10,364.64 L444.31,364.95 L444.51,365.26 L444.71,365.57 L444.90,365.88 L445.10,366.19 L445.29,366.49 L445.48,366.80 L445.67,367.11 L445.86,367.42 L446.05,367.72 L446.23,368.03 L446.41,368.34 L446.60,368.65 L446.78,368.95 L446.95,369.26 L447.13,369.56 L447.31,369.87 L447.48,370.18 L447.66,370.48 L447.83,370.79 L448.00,371.10 L448.17,371.40 L448.34,371.71 L448.51,372.01 L448.68,372.32 L448.84,372.63 L449.01,372.93 L449.17,373.24 L449.33,373.54 L449.50,373.85 L449.66,374.16 L449.82,374.46 L449.98,374.77 L450.14,375.07 L450.30,375.38 L450.46,375.68 L450.62,375.99 L450.77,376.29 L450.93,376.60 L451.09,376.90 L451.24,377.21 L451.40,377.52 L451.55,377.82 L451.71,378.13 L451.86,378.43 L452.01,378.74 L452.16,379.04 L452.32,379.35 L452.47,379.66 L452.62,379.96 L452.77,380.27 L452.93,380.58 L453.08,380.88 L453.23,381.19 L453.38,381.49 L453.53,381.80 L453.68,382.10 L453.83,382.41 L453.98,382.72 L454.13,383.02 L454.28,383.33 L454.43,383.64 L454.58,383.94 L454.73,384.25 L454.88,384.56 L455.03,384.86 L455.18,385.17 L455.33,385.47 L455.48,385.78 L455.63,386.09 L455.78,386.40 L455.93,386.70 L456.08,387.01 L456.23,387.32 L456.38,387.62 L456.53,387.93 L456.68,388.24 L456.83,388.54 L456.98,388.85 L457.13,389.16 L457.28,389.46 L457.43,389.77 L457.58,390.08 L457.73,390.38 L457.89,390.69 L458.04,391.00 L458.19,391.31 L458.34,391.61 L458.49,391.92 L458.65,392.23 L458.80,392.53 L458.95,392.84 L459.10,393.15 L459.26,393.46 L459.41,393.76 L459.56,394.07 L459.72,394.38 L459.87,394.68 L460.03,394.99 L460.18,395.30 L460.34,395.60 L460.49,395.91 L460.65,396.22 L460.80,396.53 L460.96,396.83 L461.11,397.14 L461.27,397.45 L461.43,397.75 L461.58,398.06 L461.74,398.37 L461.90,398.67 L462.05,398.98 L462.21,399.29 L462.37,399.59 L462.53,399.90 L462.69,400.21 L462.84,400.51 L463.00,400.82 L463.16,401.13 L463.32,401.43 L463.48,401.74 L463.64,402.05 L463.80,402.35 L463.96,402.66 L464.12,402.97 L464.28,403.27 L464.44,403.58 L464.60,403.88 L464.76,404.19 L464.92,404.50 L465.09,404.80 L465.25,405.11 L465.41,405.41 L465.57,405.72 L465.73,406.02 L465.90,406.33 L466.06,406.64 L466.22,406.94 L466.38,407.25 L466.55,407.55 L466.71,407.86 L466.87,408.16 L467.04,408.47 L467.20,408.77 L467.36,409.08 L467.53,409.38 L467.69,409.69 L467.85,409.99 L468.02,410.30 L468.18,410.60 L468.35,410.90 L468.51,411.21 L468.67,411.51 L468.84,411.82 L469.00,412.12 L469.17,412.43 L469.33,412.73 L469.50,413.03 L469.66,413.34 L469.83,413.64 L469.99,413.95 L470.15,414.25 L470.32,414.55 L470.48,414.86 L470.65,415.16 L470.81,415.46 L470.98,415.77 L471.14,416.07 L471.31,416.37 L471.47,416.68 L471.64,416.98 L471.80,417.28 L471.97,417.58 L472.13,417.89 L472.30,418.19 L472.46,418.49 L472.62,418.79 L472.79,419.10 L472.95,419.40 L473.12,419.70 L473.28,420.00 L473.45,420.31 L473.61,420.61 L473.77,420.91 L473.94,421.21 L474.10,421.51 L474.27,421.82 L474.43,422.12 L474.59,422.42 L474.76,422.72 L474.92,423.02 L475.09,423.32 L475.25,423.62 L475.41,423.93 L475.57,424.23 L475.74,424.53 L475.90,424.83 L476.06,425.13 L476.23,425.43 L476.39,425.73 L476.55,426.03 L476.71,426.34 L476.88,426.64 L477.04,426.94 L477.20,427.24 L477.36,427.54 L477.53,427.84 L477.69,428.14 L477.85,428.44 L478.01,428.74 L478.17,429.04 L478.33,429.34 L478.49,429.65 L478.66,429.95 L478.82,430.25 L478.98,430.55 L479.14,430.85 L479.30,431.15 L479.46,431.45 L479.62,431.75 L479.78,432.05 L479.94,432.35 L480.10,432.65 L480.26,432.95 L480.43,433.25 L480.59,433.55 L480.75,433.86 L480.91,434.16 L481.07,434.46 L481.23,434.76 L481.39,435.06 L481.55,435.36 L481.71,435.66 L481.87,435.96 L482.03,436.26 L482.19,436.56 L482.35,436.87 L482.51,437.17 L482.67,437.47 L482.83,437.77 L482.99,438.07 L483.16,438.37 L483.32,438.68 L483.48,438.98 L483.64,439.28 L483.80,439.58 L483.96,439.88 L484.12,440.18 L484.29,440.49 L484.45,440.79 L484.61,441.09 L484.78,441.40 L484.94,441.70 L485.10,442.00 L485.27,442.30 L485.43,442.61 L485.59,442.91 L485.76,443.21 L485.92,443.52 L486.09,443.82 L486.26,444.13 L486.42,444.43 L486.59,444.74 L486.76,445.04 L486.92,445.34 L487.09,445.65 L487.26,445.95 L487.43,446.26 L487.60,446.56 L487.77,446.87 L487.94,447.18 L488.12,447.48 L488.29,447.79 L488.46,448.10 L488.64,448.40 L488.81,448.71 L488.99,449.01 L489.16,449.32 L489.34,449.63 L489.52,449.94 L489.70,450.25 L489.88,450.56 L490.06,450.87 L490.24,451.17 L490.43,451.48 L490.61,451.79 L490.80,452.10 L490.98,452.41 L491.17,452.72 L491.36,453.03 L491.55,453.34 L491.74,453.66 L491.94,453.97 L492.13,454.28 L492.33,454.59 L492.52,454.90 L492.72,455.21 L492.92,455.52 L493.13,455.84 L493.33,456.15 L493.54,456.46 L493.75,456.78 L493.95,457.09 L494.16,457.40 L494.38,457.72 L494.59,458.03 L494.81,458.34 L495.02,458.66 L495.25,458.98 L495.47,459.29 L495.70,459.61 L495.92,459.93 L496.15,460.24 L496.38,460.56 L496.62,460.87 L496.85,461.19 L497.09,461.50 L497.33,461.82 L497.57,462.14 L497.82,462.46 L498.07,462.78 L498.33,463.10 L498.58,463.42 L498.84,463.73 L499.09,464.05 L499.36,464.37 L499.62,464.69 L499.89,465.00 L500.16,465.33 L500.44,465.65 L500.72,465.97 L501.01,466.29 L501.29,466.61 L501.58,466.92 L501.87,467.24 L502.16,467.56 L502.46,467.88 L502.77,468.20 L503.07,468.52 L503.39,468.84 L503.71,469.17 L504.05,469.51 L504.40,469.85 L504.77,470.21 L505.15,470.57 L505.53,470.93 L505.90,471.27 L506.26,471.60 L506.59,471.91 L506.88,472.17 L507.12,472.40 L507.35,472.60Z" fill="#fd9670" fill-opacity="0.9"/>
<path d="M505.98,466.97 L505.82,467.26 L505.65,467.59 L505.45,467.97 L505.23,468.39 L504.98,468.86 L504.73,469.34 L504.47,469.85 L504.21,470.35 L503.96,470.84 L503.72,471.32 L503.49,471.78 L503.27,472.23 L503.05,472.68 L502.84,473.13 L502.63,473.57 L502.43,474.01 L502.22,474.45 L502.02,474.90 L501.82,475.34 L501.63,475.78 L501.43,476.22 L501.23,476.66 L501.04,477.10 L500.85,477.55 L500.66,477.99 L500.48,478.43 L500.29,478.87 L500.11,479.31 L499.93,479.74 L499.75,480.18 L499.57,480.62 L499.39,481.06 L499.21,481.50 L499.04,481.94 L498.87,482.38 L498.69,482.82 L498.53,483.25 L498.36,483.69 L498.19,484.12 L498.02,484.56 L497.86,485.00 L497.69,485.43 L497.53,485.87 L497.37,486.31 L497.21,486.74 L497.05,487.18 L496.89,487.61 L496.74,488.05 L496.58,488.48 L496.43,488.91 L496.27,489.35 L496.12,489.78 L495.97,490.22 L495.81,490.65 L495.66,491.09 L495.51,491.52 L495.37,491.95 L495.22,492.38 L495.07,492.81 L494.92,493.25 L494.78,493.68 L494.63,494.11 L494.49,494.54 L494.34,494.98 L494.20,495.41 L494.06,495.84 L493.92,496.27 L493.77,496.70 L493.63,497.13 L493.49,497.56 L493.35,497.99 L493.21,498.42 L493.07,498.85 L492.93,499.28 L492.80,499.71 L492.66,500.14 L492.52,500.57 L492.38,501.00 L492.25,501.43 L492.11,501.85 L491.97,502.28 L491.84,502.71 L491.70,503.14 L491.57,503.57 L491.43,504.00 L491.30,504.43 L491.16,504.85 L491.03,505.28 L490.90,505.71 L490.76,506.14 L490.63,506.56 L490.49,506.99 L490.36,507.42 L490.23,507.85 L490.10,508.28 L489.96,508.70 L489.83,509.13 L489.70,509.56 L489.57,509.98 L489.43,510.41 L489.30,510.84 L489.17,511.26 L489.04,511.69 L488.91,512.12 L488.77,512.54 L488.64,512.97 L488.51,513.40 L488.38,513.82 L488.25,514.25 L488.12,514.67 L487.98,515.10 L487.85,515.53 L487.72,515.95 L487.59,516.38 L487.46,516.81 L487.33,517.23 L487.19,517.66 L487.06,518.08 L486.93,518.51 L486.80,518.93 L486.67,519.36 L486.54,519.79 L486.40,520.21 L486.27,520.64 L486.14,521.06 L486.01,521.49 L485.88,521.92 L485.74,522.34 L485.61,522.77 L485.48,523.19 L485.35,523.62 L485.22,524.04 L485.08,524.47 L484.95,524.89 L484.82,525.32 L484.68,525.75 L484.55,526.17 L484.42,526.60 L484.29,527.02 L484.15,527.45 L484.02,527.87 L483.89,528.30 L483.75,528.73 L483.62,529.15 L483.49,529.58 L483.35,530.00 L483.22,530.43 L483.09,530.85 L482.95,531.28 L482.82,531.70 L482.68,532.13 L482.55,532.56 L482.41,532.98 L482.28,533.41 L482.15,533.83 L482.01,534.26 L481.88,534.69 L481.74,535.11 L481.61,535.54 L481.47,535.96 L481.34,536.39 L481.20,536.81 L481.07,537.24 L480.93,537.67 L480.79,538.09 L480.66,538.52 L480.52,538.94 L480.39,539.37 L480.25,539.80 L480.11,540.22 L479.98,540.65 L479.84,541.07 L479.70,541.50 L479.57,541.93 L479.43,542.35 L479.29,542.78 L479.16,543.21 L479.02,543.63 L478.88,544.06 L478.75,544.49 L478.61,544.91 L478.47,545.34 L478.33,545.76 L478.20,546.19 L478.06,546.62 L477.92,547.04 L477.78,547.47 L477.64,547.90 L477.51,548.32 L477.37,548.75 L477.23,549.18 L477.09,549.60 L476.95,550.03 L476.81,550.46 L476.68,550.88 L476.54,551.31 L476.40,551.74 L476.26,552.16 L476.12,552.59 L475.98,553.02 L475.84,553.44 L475.70,553.87 L475.56,554.30 L475.42,554.73 L475.28,555.15 L475.14,555.58 L475.00,556.01 L474.86,556.43 L474.72,556.86 L474.58,557.29 L474.44,557.71 L474.30,558.14 L474.16,558.57 L474.02,559.00 L473.88,559.42 L473.74,559.85 L473.60,560.28 L473.46,560.70 L473.31,561.13 L473.17,561.56 L473.03,561.99 L472.89,562.41 L472.75,562.84 L472.60,563.27 L472.46,563.69 L472.32,564.12 L472.18,564.55 L472.03,564.98 L471.89,565.40 L471.75,565.83 L471.60,566.26 L471.46,566.68 L471.32,567.11 L471.17,567.54 L471.03,567.97 L470.88,568.39 L470.74,568.82 L470.59,569.25 L470.45,569.67 L470.30,570.10 L470.16,570.53 L470.01,570.95 L469.87,571.38 L469.72,571.81 L469.57,572.24 L469.43,572.66 L469.28,573.09 L469.13,573.52 L468.98,573.94 L468.84,574.37 L468.69,574.80 L468.54,575.22 L468.39,575.65 L468.24,576.08 L468.09,576.51 L467.94,576.93 L467.79,577.36 L467.64,577.78 L467.49,578.21 L467.33,578.64 L467.18,579.06 L467.03,579.49 L466.88,579.92 L466.72,580.35 L466.57,580.77 L466.41,581.20 L466.26,581.62 L466.10,582.05 L465.95,582.48 L465.79,582.90 L465.63,583.33 L465.47,583.76 L465.31,584.18 L465.15,584.61 L464.99,585.04 L464.83,585.46 L464.67,585.89 L464.51,586.31 L464.35,586.74 L464.19,587.17 L464.02,587.59 L463.86,588.02 L463.69,588.45 L463.52,588.87 L463.36,589.30 L463.19,589.73 L463.02,590.15 L462.85,590.58 L462.68,591.00 L462.51,591.43 L462.33,591.85 L462.16,592.28 L461.98,592.71 L461.81,593.14 L461.63,593.56 L461.45,593.99 L461.28,594.41 L461.10,594.84 L460.91,595.26 L460.73,595.69 L460.55,596.12 L460.36,596.54 L460.18,596.97 L459.99,597.40 L459.80,597.83 L459.61,598.25 L459.42,598.68 L459.23,599.10 L459.03,599.53 L458.83,599.96 L458.64,600.38 L458.44,600.81 L458.24,601.24 L458.03,601.67 L457.83,602.09 L457.63,602.52 L457.42,602.95 L457.21,603.37 L457.00,603.80 L456.79,604.23 L456.57,604.66 L456.35,605.09 L456.14,605.52 L455.92,605.94 L455.69,606.37 L455.47,606.80 L455.24,607.23 L455.01,607.66 L454.78,608.09 L454.55,608.52 L454.32,608.95 L454.08,609.38 L453.84,609.81 L453.59,610.24 L453.35,610.67 L453.10,611.10 L452.85,611.53 L452.60,611.96 L452.35,612.39 L452.09,612.82 L451.83,613.25 L451.56,613.69 L451.30,614.12 L451.03,614.55 L450.76,614.99 L450.48,615.42 L450.20,615.85 L449.92,616.29 L449.64,616.72 L449.35,617.16 L449.06,617.59 L448.77,618.03 L448.47,618.47 L448.17,618.90 L447.86,619.34 L447.55,619.78 L447.24,620.22 L446.93,620.65 L446.61,621.09 L446.29,621.53 L445.96,621.97 L445.63,622.41 L445.29,622.86 L444.95,623.30 L444.61,623.74 L444.26,624.18 L443.91,624.63 L443.56,625.07 L443.20,625.51 L442.83,625.96 L442.46,626.41 L442.09,626.85 L441.71,627.30 L441.32,627.75 L440.94,628.20 L440.54,628.65 L440.15,629.10 L439.74,629.55 L439.33,630.00 L438.91,630.46 L438.46,630.94 L437.98,631.44 L437.49,631.96 L436.98,632.48 L436.47,632.99 L435.99,633.48 L435.54,633.94 L435.13,634.35 L434.78,634.71 L434.47,635.02 L435.13,635.78 L435.49,635.51 L435.88,635.20 L436.34,634.86 L436.85,634.47 L437.41,634.05 L437.98,633.61 L438.56,633.16 L439.14,632.71 L439.69,632.27 L440.21,631.85 L440.70,631.44 L441.18,631.03 L441.65,630.63 L442.12,630.23 L442.58,629.83 L443.03,629.42 L443.48,629.02 L443.92,628.62 L444.36,628.21 L444.80,627.81 L445.23,627.40 L445.65,626.99 L446.07,626.58 L446.49,626.17 L446.90,625.77 L447.31,625.36 L447.71,624.95 L448.11,624.54 L448.50,624.13 L448.89,623.71 L449.28,623.30 L449.66,622.89 L450.04,622.47 L450.41,622.06 L450.78,621.65 L451.14,621.23 L451.51,620.82 L451.86,620.40 L452.22,619.99 L452.57,619.57 L452.92,619.15 L453.26,618.74 L453.60,618.32 L453.94,617.90 L454.27,617.48 L454.60,617.06 L454.93,616.65 L455.25,616.23 L455.57,615.81 L455.89,615.39 L456.20,614.97 L456.51,614.55 L456.82,614.13 L457.13,613.71 L457.43,613.28 L457.73,612.86 L458.02,612.44 L458.32,612.02 L458.61,611.60 L458.90,611.18 L459.18,610.75 L459.47,610.33 L459.75,609.91 L460.03,609.48 L460.30,609.06 L460.57,608.64 L460.84,608.21 L461.11,607.79 L461.38,607.37 L461.64,606.95 L461.90,606.52 L462.16,606.10 L462.42,605.67 L462.67,605.25 L462.93,604.82 L463.18,604.40 L463.43,603.97 L463.67,603.55 L463.92,603.12 L464.16,602.70 L464.40,602.27 L464.64,601.85 L464.88,601.42 L465.11,601.00 L465.35,600.57 L465.58,600.15 L465.81,599.72 L466.04,599.30 L466.26,598.87 L466.49,598.45 L466.71,598.02 L466.93,597.60 L467.15,597.17 L467.37,596.74 L467.59,596.32 L467.81,595.89 L468.02,595.47 L468.23,595.04 L468.45,594.62 L468.66,594.19 L468.87,593.77 L469.08,593.34 L469.28,592.91 L469.49,592.49 L469.69,592.06 L469.90,591.64 L470.10,591.21 L470.30,590.79 L470.50,590.36 L470.70,589.94 L470.90,589.51 L471.09,589.08 L471.29,588.66 L471.48,588.23 L471.68,587.81 L471.87,587.38 L472.06,586.96 L472.25,586.53 L472.44,586.11 L472.63,585.68 L472.82,585.26 L473.01,584.83 L473.19,584.40 L473.38,583.98 L473.56,583.55 L473.75,583.13 L473.93,582.70 L474.11,582.28 L474.29,581.85 L474.47,581.43 L474.66,581.00 L474.84,580.58 L475.01,580.15 L475.19,579.73 L475.37,579.30 L475.55,578.88 L475.72,578.45 L475.90,578.03 L476.07,577.60 L476.25,577.18 L476.42,576.75 L476.60,576.33 L476.77,575.90 L476.94,575.48 L477.11,575.05 L477.29,574.63 L477.46,574.20 L477.63,573.78 L477.80,573.36 L477.97,572.93 L478.13,572.51 L478.30,572.08 L478.47,571.66 L478.64,571.23 L478.81,570.81 L478.97,570.38 L479.14,569.96 L479.30,569.53 L479.47,569.11 L479.63,568.68 L479.80,568.26 L479.96,567.83 L480.13,567.41 L480.29,566.98 L480.45,566.56 L480.62,566.13 L480.78,565.71 L480.94,565.29 L481.10,564.86 L481.26,564.44 L481.43,564.01 L481.59,563.59 L481.75,563.16 L481.91,562.74 L482.07,562.31 L482.23,561.89 L482.39,561.46 L482.54,561.04 L482.70,560.61 L482.86,560.19 L483.02,559.76 L483.18,559.34 L483.33,558.92 L483.49,558.49 L483.65,558.07 L483.81,557.64 L483.96,557.22 L484.12,556.79 L484.27,556.37 L484.43,555.94 L484.58,555.52 L484.74,555.09 L484.89,554.67 L485.05,554.24 L485.20,553.82 L485.36,553.39 L485.51,552.97 L485.66,552.54 L485.82,552.12 L485.97,551.69 L486.12,551.27 L486.28,550.84 L486.43,550.42 L486.58,549.99 L486.73,549.56 L486.88,549.14 L487.03,548.71 L487.19,548.29 L487.34,547.86 L487.49,547.44 L487.64,547.01 L487.79,546.59 L487.94,546.16 L488.09,545.74 L488.24,545.31 L488.39,544.88 L488.53,544.46 L488.68,544.03 L488.83,543.61 L488.98,543.18 L489.13,542.76 L489.28,542.33 L489.42,541.91 L489.57,541.48 L489.72,541.05 L489.86,540.63 L490.01,540.20 L490.16,539.78 L490.30,539.35 L490.45,538.92 L490.60,538.50 L490.74,538.07 L490.89,537.65 L491.03,537.22 L491.18,536.79 L491.32,536.37 L491.46,535.94 L491.61,535.52 L491.75,535.09 L491.90,534.66 L492.04,534.24 L492.18,533.81 L492.33,533.39 L492.47,532.96 L492.61,532.53 L492.75,532.11 L492.90,531.68 L493.04,531.26 L493.18,530.83 L493.32,530.40 L493.46,529.98 L493.60,529.55 L493.75,529.12 L493.89,528.70 L494.03,528.27 L494.17,527.85 L494.31,527.42 L494.45,526.99 L494.59,526.57 L494.73,526.14 L494.87,525.72 L495.00,525.29 L495.14,524.86 L495.28,524.44 L495.42,524.01 L495.56,523.58 L495.70,523.16 L495.84,522.73 L495.97,522.31 L496.11,521.88 L496.25,521.45 L496.39,521.03 L496.52,520.60 L496.66,520.18 L496.80,519.75 L496.94,519.32 L497.07,518.90 L497.21,518.47 L497.35,518.05 L497.48,517.62 L497.62,517.20 L497.75,516.77 L497.89,516.35 L498.03,515.92 L498.16,515.49 L498.30,515.07 L498.44,514.64 L498.57,514.22 L498.71,513.80 L498.84,513.37 L498.98,512.95 L499.11,512.52 L499.25,512.09 L499.39,511.67 L499.52,511.25 L499.66,510.82 L499.79,510.40 L499.93,509.97 L500.06,509.55 L500.20,509.12 L500.34,508.70 L500.47,508.28 L500.61,507.85 L500.74,507.43 L500.88,507.00 L501.02,506.58 L501.15,506.16 L501.29,505.74 L501.43,505.31 L501.56,504.89 L501.70,504.47 L501.84,504.04 L501.98,503.62 L502.11,503.20 L502.25,502.77 L502.39,502.35 L502.53,501.93 L502.67,501.51 L502.81,501.09 L502.95,500.67 L503.09,500.25 L503.23,499.82 L503.37,499.40 L503.51,498.98 L503.65,498.56 L503.79,498.14 L503.93,497.72 L504.07,497.30 L504.22,496.88 L504.36,496.46 L504.50,496.04 L504.65,495.62 L504.79,495.20 L504.94,494.78 L505.09,494.36 L505.23,493.94 L505.38,493.53 L505.53,493.11 L505.68,492.69 L505.83,492.28 L505.98,491.86 L506.13,491.44 L506.28,491.02 L506.43,490.60 L506.58,490.19 L506.74,489.77 L506.89,489.36 L507.05,488.94 L507.20,488.53 L507.36,488.11 L507.52,487.70 L507.68,487.28 L507.84,486.86 L508.00,486.45 L508.17,486.03 L508.33,485.62 L508.49,485.21 L508.66,484.80 L508.83,484.38 L509.00,483.97 L509.17,483.56 L509.34,483.15 L509.51,482.73 L509.68,482.32 L509.86,481.91 L510.03,481.50 L510.21,481.09 L510.39,480.68 L510.57,480.27 L510.75,479.86 L510.94,479.45 L511.12,479.04 L511.31,478.63 L511.50,478.22 L511.69,477.81 L511.88,477.40 L512.08,476.99 L512.27,476.59 L512.47,476.18 L512.67,475.77 L512.88,475.35 L513.11,474.90 L513.35,474.44 L513.59,473.97 L513.84,473.50 L514.07,473.05 L514.29,472.63 L514.49,472.26 L514.67,471.92 L514.82,471.63Z" fill="#fdb650" fill-opacity="0.9"/>
<path d="M505.49,468.36 L505.34,469.16 L505.17,470.05 L504.97,471.07 L504.75,472.22 L504.51,473.47 L504.26,474.77 L504.02,476.11 L503.77,477.44 L503.54,478.73 L503.33,479.98 L503.12,481.19 L502.93,482.37 L502.74,483.55 L502.56,484.72 L502.38,485.89 L502.21,487.06 L502.04,488.23 L501.87,489.40 L501.71,490.57 L501.55,491.74 L501.39,492.91 L501.23,494.07 L501.08,495.24 L500.94,496.41 L500.79,497.58 L500.65,498.75 L500.51,499.91 L500.37,501.08 L500.24,502.24 L500.10,503.41 L499.97,504.57 L499.85,505.74 L499.72,506.91 L499.60,508.07 L499.48,509.24 L499.36,510.40 L499.24,511.56 L499.13,512.72 L499.01,513.89 L498.90,515.05 L498.79,516.21 L498.68,517.37 L498.57,518.54 L498.47,519.70 L498.36,520.86 L498.26,522.02 L498.16,523.18 L498.06,524.34 L497.96,525.50 L497.86,526.66 L497.76,527.82 L497.67,528.98 L497.57,530.14 L497.48,531.30 L497.38,532.46 L497.29,533.62 L497.20,534.78 L497.11,535.93 L497.02,537.09 L496.93,538.25 L496.84,539.41 L496.75,540.57 L496.66,541.72 L496.57,542.88 L496.48,544.04 L496.40,545.20 L496.31,546.35 L496.22,547.51 L496.14,548.66 L496.05,549.82 L495.96,550.98 L495.88,552.13 L495.79,553.29 L495.71,554.45 L495.62,555.60 L495.53,556.76 L495.45,557.91 L495.36,559.07 L495.28,560.22 L495.19,561.38 L495.10,562.53 L495.01,563.69 L494.93,564.84 L494.84,566.00 L494.75,567.15 L494.67,568.30 L494.58,569.46 L494.49,570.61 L494.40,571.77 L494.31,572.92 L494.22,574.07 L494.13,575.23 L494.04,576.38 L493.95,577.54 L493.86,578.69 L493.77,579.84 L493.68,581.00 L493.59,582.15 L493.49,583.30 L493.40,584.46 L493.30,585.61 L493.21,586.76 L493.11,587.92 L493.02,589.07 L492.92,590.22 L492.83,591.38 L492.73,592.53 L492.63,593.68 L492.53,594.83 L492.43,595.99 L492.33,597.14 L492.23,598.29 L492.13,599.45 L492.03,600.60 L491.93,601.75 L491.82,602.90 L491.72,604.06 L491.61,605.21 L491.51,606.36 L491.40,607.52 L491.30,608.67 L491.19,609.82 L491.08,610.97 L490.97,612.13 L490.86,613.28 L490.75,614.43 L490.64,615.59 L490.53,616.74 L490.42,617.89 L490.31,619.04 L490.19,620.20 L490.08,621.35 L489.97,622.50 L489.85,623.66 L489.74,624.81 L489.62,625.96 L489.50,627.12 L489.38,628.27 L489.27,629.42 L489.15,630.58 L489.03,631.73 L488.91,632.88 L488.79,634.04 L488.67,635.19 L488.54,636.34 L488.42,637.50 L488.30,638.65 L488.17,639.80 L488.05,640.96 L487.93,642.11 L487.80,643.26 L487.67,644.42 L487.55,645.57 L487.42,646.72 L487.29,647.88 L487.17,649.03 L487.04,650.19 L486.91,651.34 L486.78,652.49 L486.65,653.65 L486.52,654.80 L486.39,655.96 L486.26,657.11 L486.13,658.26 L485.99,659.42 L485.86,660.57 L485.73,661.73 L485.60,662.88 L485.46,664.04 L485.33,665.19 L485.20,666.35 L485.06,667.50 L484.93,668.65 L484.79,669.81 L484.66,670.96 L484.52,672.12 L484.38,673.27 L484.25,674.43 L484.11,675.58 L483.98,676.74 L483.84,677.89 L483.70,679.05 L483.56,680.20 L483.43,681.36 L483.29,682.51 L483.15,683.67 L483.01,684.83 L482.87,685.98 L482.74,687.14 L482.60,688.29 L482.46,689.45 L482.32,690.60 L482.18,691.76 L482.04,692.91 L481.90,694.07 L481.76,695.23 L481.62,696.38 L481.49,697.54 L481.35,698.69 L481.21,699.85 L481.07,701.01 L480.93,702.16 L480.79,703.32 L480.65,704.48 L480.51,705.63 L480.37,706.79 L480.23,707.94 L480.09,709.10 L479.95,710.26 L479.81,711.41 L479.67,712.57 L479.53,713.73 L479.39,714.88 L479.25,716.04 L479.11,717.20 L478.98,718.35 L478.84,719.51 L478.70,720.67 L478.56,721.82 L478.42,722.98 L478.28,724.14 L478.14,725.29 L478.00,726.45 L477.86,727.61 L477.73,728.76 L477.59,729.92 L477.45,731.08 L477.31,732.23 L477.17,733.39 L477.03,734.55 L476.89,735.70 L476.76,736.86 L476.62,738.02 L476.48,739.17 L476.34,740.33 L476.20,741.49 L476.07,742.64 L475.93,743.80 L475.79,744.96 L475.65,746.11 L475.52,747.27 L475.38,748.43 L475.24,749.58 L475.10,750.74 L474.96,751.90 L474.83,753.05 L474.69,754.21 L474.55,755.37 L474.41,756.52 L474.27,757.68 L474.14,758.84 L474.00,759.99 L473.86,761.15 L473.72,762.31 L473.58,763.46 L473.44,764.62 L473.30,765.78 L473.17,766.93 L473.03,768.09 L472.89,769.24 L472.75,770.40 L472.61,771.56 L472.46,772.71 L472.32,773.87 L472.18,775.02 L472.04,776.18 L471.90,777.34 L471.76,778.49 L471.61,779.65 L471.47,780.80 L471.33,781.96 L471.18,783.11 L471.04,784.27 L470.89,785.43 L470.75,786.58 L470.60,787.74 L470.45,788.89 L470.30,790.05 L470.15,791.20 L470.00,792.35 L469.85,793.51 L469.70,794.67 L469.55,795.82 L469.40,796.98 L469.24,798.13 L469.09,799.29 L468.93,800.44 L468.77,801.59 L468.62,802.75 L468.46,803.90 L468.29,805.06 L468.13,806.21 L467.97,807.37 L467.80,808.52 L467.64,809.67 L467.47,810.83 L467.30,811.98 L467.13,813.13 L466.96,814.29 L466.78,815.44 L466.60,816.60 L466.43,817.75 L466.25,818.90 L466.06,820.06 L465.88,821.21 L465.70,822.36 L465.51,823.52 L465.32,824.67 L465.13,825.82 L464.93,826.98 L464.73,828.13 L464.53,829.28 L464.33,830.44 L464.13,831.59 L463.92,832.74 L463.71,833.90 L463.50,835.05 L463.28,836.20 L463.06,837.35 L462.84,838.51 L462.62,839.66 L462.39,840.81 L462.16,841.97 L461.92,843.12 L461.69,844.27 L461.44,845.43 L461.20,846.58 L460.95,847.73 L460.70,848.88 L460.44,850.04 L460.18,851.19 L459.92,852.34 L459.65,853.50 L459.38,854.65 L459.10,855.81 L458.82,856.96 L458.53,858.11 L458.24,859.27 L457.95,860.42 L457.65,861.57 L457.34,862.73 L457.03,863.88 L456.71,865.04 L456.39,866.19 L456.07,867.35 L455.74,868.50 L455.40,869.66 L455.06,870.81 L454.71,871.97 L454.35,873.12 L453.99,874.28 L453.62,875.44 L453.25,876.60 L452.87,877.75 L452.48,878.91 L452.09,880.07 L451.69,881.22 L451.29,882.38 L450.87,883.54 L450.45,884.70 L450.02,885.86 L449.58,887.02 L449.14,888.18 L448.69,889.34 L448.23,890.50 L447.76,891.66 L447.28,892.83 L446.80,893.99 L446.31,895.15 L445.80,896.31 L445.29,897.48 L444.77,898.64 L444.24,899.81 L443.70,900.98 L443.15,902.14 L442.60,903.31 L442.03,904.48 L441.45,905.64 L440.86,906.82 L440.24,908.01 L439.59,909.25 L438.89,910.54 L438.16,911.87 L437.40,913.21 L436.65,914.53 L435.93,915.80 L435.26,916.97 L434.66,918.01 L434.14,918.92 L433.67,919.74 L434.53,920.26 L435.05,919.48 L435.63,918.61 L436.30,917.61 L437.04,916.48 L437.85,915.27 L438.69,913.99 L439.53,912.70 L440.36,911.41 L441.15,910.15 L441.89,908.94 L442.59,907.77 L443.26,906.62 L443.92,905.48 L444.57,904.33 L445.20,903.19 L445.83,902.04 L446.44,900.90 L447.05,899.75 L447.64,898.61 L448.23,897.46 L448.81,896.31 L449.38,895.16 L449.94,894.01 L450.49,892.87 L451.03,891.72 L451.56,890.57 L452.09,889.41 L452.60,888.26 L453.11,887.11 L453.61,885.96 L454.10,884.81 L454.59,883.66 L455.06,882.50 L455.53,881.35 L455.99,880.19 L456.45,879.04 L456.89,877.89 L457.33,876.73 L457.77,875.58 L458.19,874.42 L458.61,873.27 L459.03,872.11 L459.44,870.96 L459.84,869.80 L460.23,868.64 L460.62,867.49 L461.00,866.33 L461.38,865.18 L461.75,864.02 L462.11,862.86 L462.47,861.71 L462.83,860.55 L463.18,859.39 L463.52,858.23 L463.86,857.07 L464.19,855.92 L464.52,854.76 L464.85,853.60 L465.17,852.44 L465.48,851.29 L465.79,850.13 L466.10,848.97 L466.40,847.81 L466.70,846.65 L467.00,845.49 L467.29,844.33 L467.57,843.18 L467.85,842.02 L468.13,840.86 L468.41,839.70 L468.68,838.55 L468.95,837.39 L469.21,836.23 L469.47,835.07 L469.73,833.91 L469.98,832.75 L470.24,831.59 L470.48,830.44 L470.73,829.28 L470.97,828.12 L471.21,826.96 L471.45,825.80 L471.69,824.65 L471.92,823.49 L472.15,822.33 L472.37,821.17 L472.60,820.01 L472.82,818.86 L473.04,817.70 L473.26,816.54 L473.48,815.39 L473.69,814.23 L473.90,813.07 L474.11,811.91 L474.32,810.75 L474.52,809.60 L474.73,808.44 L474.93,807.28 L475.13,806.13 L475.33,804.97 L475.53,803.81 L475.72,802.66 L475.92,801.50 L476.11,800.34 L476.30,799.18 L476.49,798.03 L476.68,796.87 L476.87,795.72 L477.05,794.56 L477.24,793.40 L477.42,792.25 L477.61,791.09 L477.79,789.93 L477.97,788.78 L478.15,787.62 L478.33,786.47 L478.50,785.31 L478.68,784.16 L478.86,783.00 L479.03,781.84 L479.21,780.69 L479.38,779.53 L479.55,778.38 L479.72,777.22 L479.90,776.07 L480.07,774.91 L480.24,773.76 L480.41,772.60 L480.57,771.45 L480.74,770.29 L480.91,769.14 L481.08,767.98 L481.24,766.82 L481.41,765.67 L481.58,764.51 L481.74,763.36 L481.91,762.20 L482.07,761.05 L482.23,759.90 L482.40,758.74 L482.56,757.59 L482.72,756.43 L482.89,755.28 L483.05,754.12 L483.21,752.97 L483.37,751.81 L483.53,750.66 L483.70,749.50 L483.86,748.35 L484.02,747.19 L484.18,746.04 L484.34,744.88 L484.50,743.73 L484.66,742.58 L484.82,741.42 L484.98,740.27 L485.14,739.11 L485.30,737.96 L485.45,736.80 L485.61,735.65 L485.77,734.49 L485.93,733.34 L486.09,732.19 L486.25,731.03 L486.41,729.88 L486.56,728.72 L486.72,727.57 L486.88,726.41 L487.04,725.26 L487.19,724.10 L487.35,722.95 L487.51,721.79 L487.66,720.64 L487.82,719.48 L487.98,718.33 L488.13,717.18 L488.29,716.02 L488.45,714.87 L488.60,713.71 L488.76,712.56 L488.91,711.40 L489.07,710.25 L489.22,709.09 L489.38,707.94 L489.54,706.78 L489.69,705.63 L489.84,704.47 L490.00,703.32 L490.15,702.16 L490.31,701.01 L490.46,699.85 L490.61,698.70 L490.77,697.54 L490.92,696.38 L491.07,695.23 L491.23,694.07 L491.38,692.92 L491.53,691.76 L491.68,690.61 L491.83,689.45 L491.99,688.30 L492.14,687.14 L492.29,685.98 L492.44,684.83 L492.59,683.67 L492.74,682.52 L492.89,681.36 L493.04,680.20 L493.19,679.05 L493.33,677.89 L493.48,676.74 L493.63,675.58 L493.78,674.42 L493.92,673.27 L494.07,672.11 L494.21,670.95 L494.36,669.80 L494.51,668.64 L494.65,667.48 L494.79,666.33 L494.94,665.17 L495.08,664.01 L495.22,662.86 L495.37,661.70 L495.51,660.54 L495.65,659.39 L495.79,658.23 L495.93,657.07 L496.07,655.91 L496.21,654.76 L496.35,653.60 L496.48,652.44 L496.62,651.29 L496.76,650.13 L496.89,648.97 L497.03,647.81 L497.16,646.66 L497.30,645.50 L497.43,644.34 L497.56,643.18 L497.70,642.03 L497.83,640.87 L497.96,639.71 L498.09,638.55 L498.22,637.39 L498.35,636.24 L498.48,635.08 L498.60,633.92 L498.73,632.76 L498.86,631.60 L498.98,630.45 L499.11,629.29 L499.23,628.13 L499.35,626.97 L499.48,625.81 L499.60,624.66 L499.72,623.50 L499.84,622.34 L499.96,621.18 L500.08,620.02 L500.19,618.86 L500.31,617.70 L500.43,616.55 L500.54,615.39 L500.66,614.23 L500.77,613.07 L500.89,611.91 L501.00,610.75 L501.11,609.60 L501.22,608.44 L501.33,607.28 L501.44,606.12 L501.55,604.96 L501.66,603.80 L501.77,602.65 L501.87,601.49 L501.98,600.33 L502.08,599.17 L502.19,598.01 L502.29,596.85 L502.39,595.70 L502.50,594.54 L502.60,593.38 L502.70,592.22 L502.80,591.06 L502.90,589.90 L503.00,588.75 L503.10,587.59 L503.19,586.43 L503.29,585.27 L503.39,584.11 L503.48,582.96 L503.58,581.80 L503.67,580.64 L503.77,579.48 L503.86,578.32 L503.95,577.17 L504.05,576.01 L504.14,574.85 L504.23,573.70 L504.32,572.54 L504.41,571.38 L504.50,570.22 L504.59,569.07 L504.68,567.91 L504.77,566.75 L504.86,565.60 L504.95,564.44 L505.04,563.28 L505.13,562.13 L505.21,560.97 L505.30,559.81 L505.39,558.66 L505.48,557.50 L505.56,556.35 L505.65,555.19 L505.74,554.03 L505.83,552.88 L505.91,551.72 L506.00,550.57 L506.09,549.41 L506.18,548.26 L506.26,547.10 L506.35,545.95 L506.44,544.79 L506.53,543.64 L506.62,542.49 L506.71,541.33 L506.79,540.18 L506.89,539.03 L506.98,537.87 L507.07,536.72 L507.16,535.57 L507.25,534.41 L507.34,533.26 L507.44,532.11 L507.53,530.96 L507.63,529.81 L507.72,528.66 L507.82,527.50 L507.92,526.35 L508.02,525.20 L508.12,524.05 L508.22,522.90 L508.32,521.75 L508.42,520.60 L508.53,519.45 L508.63,518.30 L508.74,517.15 L508.85,516.00 L508.96,514.85 L509.07,513.70 L509.19,512.56 L509.30,511.41 L509.42,510.26 L509.54,509.11 L509.66,507.97 L509.79,506.82 L509.91,505.68 L510.04,504.53 L510.17,503.38 L510.30,502.24 L510.44,501.09 L510.58,499.95 L510.71,498.80 L510.86,497.66 L511.00,496.52 L511.15,495.37 L511.30,494.23 L511.46,493.09 L511.61,491.95 L511.77,490.80 L511.94,489.66 L512.10,488.52 L512.27,487.38 L512.45,486.24 L512.62,485.10 L512.80,483.96 L512.99,482.82 L513.18,481.66 L513.39,480.46 L513.61,479.22 L513.85,477.92 L514.09,476.62 L514.34,475.33 L514.57,474.10 L514.79,472.95 L514.99,471.93 L515.16,471.04 L515.31,470.24Z" fill="#fa9ab3" fill-opacity="0.9"/>
<path d="M933.92,354.98 L938.18,354.58 L942.48,354.18 L946.85,353.77 L951.31,353.35 L955.88,352.92 L960.55,352.48 L965.32,352.02 L970.17,351.56 L975.08,351.08 L980.03,350.59 L985.02,350.09 L990.04,349.58 L995.08,349.05 L1000.16,348.49 L1005.30,347.90 L1010.49,347.27 L1015.75,346.59 L1021.10,345.86 L1026.54,345.08 L1032.08,344.23 L1037.70,343.33 L1043.40,342.37 L1049.17,341.37 L1054.97,340.32 L1060.79,339.24 L1066.60,338.14 L1072.38,337.03 L1078.09,335.92 L1083.73,334.82 L1089.28,333.73 L1094.74,332.65 L1100.11,331.58 L1105.42,330.52 L1110.67,329.45 L1115.89,328.37 L1121.12,327.26 L1126.38,326.10 L1131.68,324.90 L1137.06,323.64 L1142.52,322.31 L1148.07,320.91 L1153.72,319.44 L1159.45,317.91 L1165.27,316.31 L1171.17,314.66 L1177.12,312.96 L1183.12,311.22 L1189.15,309.46 L1195.20,307.66 L1201.27,305.85 L1207.33,304.02 L1213.38,302.19 L1219.41,300.35 L1225.40,298.52 L1231.35,296.69 L1237.23,294.88 L1243.04,293.08 L1248.77,291.31 L1254.42,289.57 L1259.96,287.85 L1265.41,286.15 L1270.77,284.48 L1276.04,282.83 L1281.23,281.20 L1286.36,279.57 L1291.43,277.94 L1296.47,276.29 L1301.48,274.63 L1306.47,272.95 L1311.46,271.24 L1316.44,269.49 L1321.43,267.69 L1326.43,265.86 L1331.44,263.97 L1336.46,262.03 L1341.49,260.04 L1346.52,257.98 L1351.57,255.87 L1356.63,253.69 L1361.68,251.45 L1366.73,249.16 L1371.76,246.82 L1376.76,244.45 L1381.71,242.05 L1386.59,239.65 L1391.39,237.27 L1396.08,234.92 L1400.65,232.61 L1405.08,230.36 L1409.37,228.19 L1413.52,226.09 L1417.52,224.06 L1421.40,222.11 L1425.15,220.23 L1428.82,218.41 L1432.40,216.64 L1435.93,214.90 L1439.43,213.20 L1442.91,211.52 L1446.38,209.85 L1449.84,208.19 L1453.29,206.53 L1456.73,204.88 L1460.14,203.23 L1463.51,201.58 L1466.81,199.93 L1470.02,198.28 L1473.14,196.64 L1476.13,195.00 L1478.98,193.37 L1481.69,191.76 L1484.24,190.17 L1486.62,188.62 L1488.84,187.11 L1490.87,185.67 L1492.73,184.30 L1494.41,183.03 L1495.90,181.85 L1497.21,180.79 L1498.34,179.85 L1499.29,179.04 L1500.08,178.34 L1500.72,177.76 L1501.22,177.28 L1501.60,176.89 L1501.89,176.57 L1502.10,176.30 L1502.25,176.08 L1502.36,175.89 L1502.44,175.74 L1501.56,175.26 L1501.49,175.39 L1501.41,175.51 L1501.29,175.66 L1501.11,175.85 L1500.84,176.12 L1500.46,176.45 L1499.95,176.88 L1499.30,177.41 L1498.48,178.04 L1497.49,178.78 L1496.32,179.63 L1494.96,180.60 L1493.42,181.66 L1491.69,182.82 L1489.78,184.05 L1487.69,185.35 L1485.43,186.71 L1483.00,188.10 L1480.41,189.51 L1477.66,190.95 L1474.77,192.40 L1471.73,193.86 L1468.58,195.32 L1465.32,196.79 L1461.97,198.27 L1458.55,199.75 L1455.07,201.23 L1451.57,202.73 L1448.04,204.23 L1444.51,205.74 L1440.97,207.27 L1437.41,208.82 L1433.83,210.39 L1430.22,212.00 L1426.56,213.64 L1422.82,215.34 L1418.98,217.10 L1415.04,218.92 L1410.96,220.82 L1406.74,222.80 L1402.39,224.84 L1397.89,226.96 L1393.27,229.14 L1388.53,231.36 L1383.70,233.61 L1378.79,235.88 L1373.82,238.14 L1368.82,240.39 L1363.79,242.60 L1358.76,244.76 L1353.73,246.88 L1348.70,248.94 L1343.68,250.94 L1338.68,252.89 L1333.68,254.78 L1328.70,256.63 L1323.72,258.42 L1318.76,260.17 L1313.80,261.88 L1308.84,263.56 L1303.88,265.20 L1298.91,266.82 L1293.92,268.42 L1288.90,270.00 L1283.84,271.58 L1278.72,273.16 L1273.53,274.75 L1268.26,276.36 L1262.90,277.99 L1257.44,279.64 L1251.89,281.33 L1246.24,283.04 L1240.50,284.78 L1234.68,286.55 L1228.79,288.33 L1222.85,290.13 L1216.86,291.94 L1210.83,293.75 L1204.79,295.56 L1198.74,297.37 L1192.68,299.16 L1186.65,300.93 L1180.64,302.68 L1174.67,304.40 L1168.75,306.08 L1162.90,307.71 L1157.12,309.28 L1151.44,310.79 L1145.85,312.24 L1140.37,313.61 L1134.98,314.92 L1129.67,316.16 L1124.43,317.35 L1119.23,318.48 L1114.05,319.58 L1108.86,320.65 L1103.64,321.71 L1098.36,322.77 L1092.99,323.83 L1087.54,324.91 L1082.00,325.99 L1076.37,327.09 L1070.67,328.20 L1064.92,329.30 L1059.13,330.40 L1053.35,331.47 L1047.59,332.51 L1041.88,333.51 L1036.24,334.45 L1030.69,335.34 L1025.22,336.18 L1019.85,336.95 L1014.57,337.67 L1009.37,338.34 L1004.24,338.96 L999.16,339.54 L994.12,340.10 L989.10,340.63 L984.11,341.14 L979.14,341.64 L974.20,342.12 L969.31,342.60 L964.46,343.07 L959.70,343.52 L955.03,343.96 L950.47,344.39 L946.01,344.81 L941.64,345.22 L937.34,345.62 L933.08,346.02Z" fill="#64acf9" fill-opacity="0.92"/>
<path d="M883.98,642.20 L885.07,642.21 L886.28,642.21 L887.67,642.22 L889.23,642.22 L890.92,642.23 L892.68,642.24 L894.47,642.25 L896.25,642.27 L897.97,642.28 L899.63,642.30 L901.23,642.32 L902.81,642.34 L904.38,642.36 L905.95,642.39 L907.51,642.41 L909.08,642.44 L910.65,642.47 L912.22,642.50 L913.79,642.54 L915.35,642.57 L916.92,642.61 L918.49,642.65 L920.06,642.69 L921.63,642.73 L923.19,642.77 L924.76,642.81 L926.33,642.86 L927.90,642.91 L929.47,642.96 L931.04,643.01 L932.60,643.06 L934.17,643.12 L935.74,643.17 L937.31,643.23 L938.88,643.29 L940.45,643.35 L942.02,643.41 L943.58,643.47 L945.15,643.54 L946.72,643.60 L948.29,643.67 L949.86,643.74 L951.43,643.81 L953.00,643.88 L954.57,643.95 L956.13,644.03 L957.70,644.10 L959.27,644.18 L960.84,644.26 L962.41,644.34 L963.98,644.42 L965.55,644.50 L967.12,644.59 L968.69,644.67 L970.26,644.76 L971.82,644.84 L973.39,644.93 L974.96,645.02 L976.53,645.12 L978.10,645.21 L979.67,645.30 L981.24,645.40 L982.81,645.49 L984.38,645.59 L985.95,645.69 L987.52,645.79 L989.09,645.89 L990.66,645.99 L992.23,646.10 L993.80,646.20 L995.37,646.31 L996.93,646.42 L998.50,646.52 L1000.07,646.63 L1001.64,646.74 L1003.21,646.86 L1004.78,646.97 L1006.35,647.08 L1007.92,647.20 L1009.49,647.31 L1011.06,647.43 L1012.63,647.55 L1014.20,647.67 L1015.77,647.79 L1017.34,647.91 L1018.91,648.03 L1020.48,648.16 L1022.05,648.28 L1023.62,648.41 L1025.19,648.54 L1026.76,648.66 L1028.33,648.79 L1029.90,648.92 L1031.47,649.05 L1033.04,649.18 L1034.61,649.32 L1036.18,649.45 L1037.75,649.59 L1039.32,649.72 L1040.89,649.86 L1042.46,650.00 L1044.03,650.13 L1045.60,650.27 L1047.17,650.41 L1048.74,650.56 L1050.31,650.70 L1051.88,650.84 L1053.45,650.98 L1055.02,651.13 L1056.59,651.28 L1058.16,651.42 L1059.73,651.57 L1061.30,651.72 L1062.87,651.87 L1064.44,652.02 L1066.01,652.17 L1067.58,652.32 L1069.15,652.48 L1070.73,652.63 L1072.30,652.78 L1073.87,652.94 L1075.44,653.10 L1077.01,653.25 L1078.58,653.41 L1080.15,653.57 L1081.72,653.73 L1083.29,653.89 L1084.86,654.05 L1086.43,654.22 L1088.00,654.38 L1089.57,654.54 L1091.14,654.71 L1092.71,654.87 L1094.28,655.04 L1095.85,655.21 L1097.42,655.37 L1098.99,655.54 L1100.56,655.71 L1102.14,655.88 L1103.71,656.05 L1105.28,656.23 L1106.85,656.40 L1108.42,656.57 L1109.99,656.75 L1111.56,656.92 L1113.13,657.10 L1114.70,657.27 L1116.27,657.45 L1117.84,657.63 L1119.41,657.81 L1120.98,657.99 L1122.55,658.17 L1124.13,658.35 L1125.70,658.53 L1127.27,658.71 L1128.84,658.90 L1130.41,659.08 L1131.98,659.27 L1133.55,659.45 L1135.12,659.64 L1136.69,659.82 L1138.26,660.01 L1139.83,660.20 L1141.40,660.39 L1142.97,660.58 L1144.55,660.77 L1146.12,660.96 L1147.69,661.15 L1149.26,661.35 L1150.83,661.54 L1152.40,661.73 L1153.97,661.93 L1155.54,662.12 L1157.11,662.32 L1158.68,662.52 L1160.25,662.72 L1161.83,662.91 L1163.40,663.11 L1164.97,663.31 L1166.54,663.51 L1168.11,663.72 L1169.68,663.92 L1171.25,664.12 L1172.82,664.32 L1174.39,664.53 L1175.96,664.73 L1177.53,664.94 L1179.11,665.14 L1180.68,665.35 L1182.25,665.56 L1183.82,665.77 L1185.39,665.98 L1186.96,666.19 L1188.53,666.40 L1190.10,666.61 L1191.67,666.82 L1193.24,667.03 L1194.82,667.25 L1196.39,667.46 L1197.96,667.67 L1199.53,667.89 L1201.10,668.11 L1202.67,668.32 L1204.24,668.54 L1205.81,668.76 L1207.38,668.98 L1208.95,669.20 L1210.53,669.42 L1212.10,669.64 L1213.67,669.86 L1215.24,670.08 L1216.81,670.31 L1218.38,670.53 L1219.95,670.76 L1221.52,670.98 L1223.09,671.21 L1224.67,671.43 L1226.24,671.66 L1227.81,671.89 L1229.38,672.12 L1230.95,672.35 L1232.52,672.58 L1234.09,672.81 L1235.66,673.04 L1237.23,673.28 L1238.81,673.51 L1240.38,673.74 L1241.95,673.98 L1243.52,674.22 L1245.09,674.45 L1246.66,674.69 L1248.23,674.93 L1249.80,675.17 L1251.38,675.41 L1252.95,675.65 L1254.52,675.89 L1256.09,676.13 L1257.66,676.37 L1259.23,676.62 L1260.80,676.86 L1262.37,677.10 L1263.95,677.35 L1265.52,677.60 L1267.09,677.84 L1268.66,678.09 L1270.23,678.34 L1271.80,678.59 L1273.37,678.84 L1274.94,679.09 L1276.52,679.35 L1278.09,679.60 L1279.66,679.85 L1281.23,680.11 L1282.80,680.36 L1284.37,680.62 L1285.95,680.88 L1287.52,681.13 L1289.09,681.39 L1290.66,681.65 L1292.23,681.91 L1293.80,682.17 L1295.37,682.44 L1296.95,682.70 L1298.52,682.96 L1300.09,683.23 L1301.66,683.49 L1303.23,683.76 L1304.80,684.03 L1306.38,684.29 L1307.95,684.56 L1309.52,684.83 L1311.09,685.10 L1312.66,685.38 L1314.24,685.65 L1315.81,685.92 L1317.38,686.20 L1318.95,686.47 L1320.52,686.75 L1322.10,687.03 L1323.67,687.30 L1325.24,687.58 L1326.81,687.86 L1328.39,688.14 L1329.96,688.43 L1331.53,688.71 L1333.10,688.99 L1334.67,689.28 L1336.25,689.56 L1337.82,689.85 L1339.39,690.14 L1340.96,690.43 L1342.54,690.72 L1344.11,691.01 L1345.68,691.30 L1347.26,691.59 L1348.83,691.89 L1350.40,692.18 L1351.97,692.48 L1353.55,692.77 L1355.12,693.07 L1356.69,693.37 L1358.27,693.67 L1359.84,693.97 L1361.41,694.27 L1362.99,694.58 L1364.56,694.88 L1366.13,695.18 L1367.71,695.49 L1369.28,695.80 L1370.85,696.11 L1372.43,696.42 L1374.00,696.73 L1375.58,697.04 L1377.15,697.35 L1378.73,697.67 L1380.30,697.98 L1381.87,698.30 L1383.45,698.61 L1385.02,698.93 L1386.60,699.25 L1388.17,699.57 L1389.75,699.90 L1391.32,700.22 L1392.90,700.54 L1394.47,700.87 L1396.05,701.19 L1397.62,701.52 L1399.20,701.85 L1400.77,702.18 L1402.35,702.51 L1403.93,702.85 L1405.50,703.18 L1407.08,703.52 L1408.65,703.85 L1410.23,704.19 L1411.81,704.53 L1413.38,704.87 L1414.96,705.21 L1416.54,705.55 L1418.11,705.90 L1419.69,706.24 L1421.27,706.59 L1422.85,706.94 L1424.42,707.28 L1426.00,707.63 L1427.58,707.99 L1429.16,708.34 L1430.74,708.69 L1432.32,709.05 L1433.89,709.41 L1435.47,709.77 L1437.05,710.13 L1438.63,710.49 L1440.21,710.85 L1441.79,711.21 L1443.37,711.58 L1444.95,711.94 L1446.53,712.31 L1448.11,712.68 L1449.69,713.05 L1451.27,713.43 L1452.86,713.80 L1454.44,714.18 L1456.02,714.55 L1457.60,714.93 L1459.18,715.31 L1460.77,715.69 L1462.35,716.07 L1463.93,716.46 L1465.52,716.84 L1467.10,717.23 L1468.68,717.62 L1470.27,718.01 L1471.85,718.40 L1473.44,718.79 L1475.02,719.19 L1476.61,719.58 L1478.20,719.98 L1479.79,720.38 L1481.42,720.80 L1483.09,721.22 L1484.84,721.67 L1486.64,722.14 L1488.46,722.60 L1490.24,723.07 L1491.94,723.51 L1493.52,723.92 L1494.93,724.28 L1496.16,724.60 L1497.26,724.88 L1497.54,723.92 L1496.47,723.55 L1495.27,723.15 L1493.89,722.68 L1492.35,722.15 L1490.68,721.59 L1488.93,721.00 L1487.15,720.40 L1485.39,719.81 L1483.67,719.24 L1482.02,718.70 L1480.43,718.18 L1478.86,717.67 L1477.30,717.17 L1475.74,716.67 L1474.18,716.17 L1472.62,715.68 L1471.06,715.19 L1469.49,714.70 L1467.93,714.22 L1466.37,713.74 L1464.81,713.26 L1463.25,712.78 L1461.68,712.31 L1460.12,711.84 L1458.56,711.37 L1456.99,710.91 L1455.43,710.44 L1453.87,709.99 L1452.30,709.53 L1450.74,709.07 L1449.17,708.62 L1447.61,708.17 L1446.04,707.72 L1444.48,707.28 L1442.91,706.84 L1441.35,706.40 L1439.78,705.96 L1438.21,705.53 L1436.65,705.09 L1435.08,704.66 L1433.51,704.23 L1431.95,703.81 L1430.38,703.39 L1428.81,702.97 L1427.24,702.55 L1425.68,702.13 L1424.11,701.72 L1422.54,701.31 L1420.97,700.90 L1419.40,700.49 L1417.84,700.08 L1416.27,699.68 L1414.70,699.28 L1413.13,698.88 L1411.56,698.49 L1409.99,698.09 L1408.42,697.70 L1406.85,697.31 L1405.28,696.92 L1403.71,696.53 L1402.14,696.15 L1400.57,695.77 L1399.00,695.39 L1397.43,695.01 L1395.86,694.63 L1394.29,694.26 L1392.72,693.89 L1391.15,693.52 L1389.58,693.15 L1388.01,692.78 L1386.44,692.42 L1384.87,692.05 L1383.29,691.69 L1381.72,691.33 L1380.15,690.98 L1378.58,690.62 L1377.01,690.27 L1375.44,689.91 L1373.87,689.56 L1372.29,689.22 L1370.72,688.87 L1369.15,688.52 L1367.58,688.18 L1366.01,687.84 L1364.43,687.50 L1362.86,687.16 L1361.29,686.82 L1359.72,686.49 L1358.14,686.15 L1356.57,685.82 L1355.00,685.49 L1353.43,685.16 L1351.85,684.83 L1350.28,684.51 L1348.71,684.18 L1347.14,683.86 L1345.56,683.54 L1343.99,683.22 L1342.42,682.90 L1340.84,682.58 L1339.27,682.27 L1337.70,681.95 L1336.12,681.64 L1334.55,681.33 L1332.98,681.02 L1331.40,680.71 L1329.83,680.41 L1328.26,680.10 L1326.68,679.80 L1325.11,679.49 L1323.54,679.19 L1321.96,678.89 L1320.39,678.59 L1318.82,678.30 L1317.24,678.00 L1315.67,677.70 L1314.10,677.41 L1312.52,677.12 L1310.95,676.83 L1309.37,676.54 L1307.80,676.25 L1306.23,675.96 L1304.65,675.68 L1303.08,675.39 L1301.51,675.11 L1299.93,674.82 L1298.36,674.54 L1296.78,674.26 L1295.21,673.98 L1293.64,673.71 L1292.06,673.43 L1290.49,673.15 L1288.91,672.88 L1287.34,672.61 L1285.76,672.33 L1284.19,672.06 L1282.62,671.79 L1281.04,671.52 L1279.47,671.26 L1277.89,670.99 L1276.32,670.72 L1274.75,670.46 L1273.17,670.20 L1271.60,669.93 L1270.02,669.67 L1268.45,669.41 L1266.87,669.15 L1265.30,668.90 L1263.73,668.64 L1262.15,668.38 L1260.58,668.13 L1259.00,667.87 L1257.43,667.62 L1255.85,667.37 L1254.28,667.12 L1252.70,666.87 L1251.13,666.62 L1249.56,666.37 L1247.98,666.12 L1246.41,665.87 L1244.83,665.63 L1243.26,665.38 L1241.68,665.14 L1240.11,664.90 L1238.53,664.66 L1236.96,664.41 L1235.39,664.17 L1233.81,663.94 L1232.24,663.70 L1230.66,663.46 L1229.09,663.22 L1227.51,662.99 L1225.94,662.75 L1224.36,662.52 L1222.79,662.29 L1221.22,662.06 L1219.64,661.82 L1218.07,661.59 L1216.49,661.36 L1214.92,661.14 L1213.34,660.91 L1211.77,660.68 L1210.19,660.46 L1208.62,660.23 L1207.04,660.01 L1205.47,659.78 L1203.89,659.56 L1202.32,659.34 L1200.75,659.12 L1199.17,658.90 L1197.60,658.68 L1196.02,658.46 L1194.45,658.24 L1192.87,658.02 L1191.30,657.81 L1189.72,657.59 L1188.15,657.38 L1186.57,657.16 L1185.00,656.95 L1183.42,656.74 L1181.85,656.53 L1180.28,656.32 L1178.70,656.11 L1177.13,655.90 L1175.55,655.69 L1173.98,655.48 L1172.40,655.28 L1170.83,655.07 L1169.25,654.86 L1167.68,654.66 L1166.10,654.46 L1164.53,654.25 L1162.95,654.05 L1161.38,653.85 L1159.80,653.65 L1158.23,653.45 L1156.65,653.25 L1155.08,653.05 L1153.50,652.86 L1151.93,652.66 L1150.36,652.46 L1148.78,652.27 L1147.21,652.07 L1145.63,651.88 L1144.06,651.69 L1142.48,651.50 L1140.91,651.31 L1139.33,651.12 L1137.76,650.93 L1136.18,650.74 L1134.61,650.55 L1133.03,650.36 L1131.46,650.17 L1129.88,649.99 L1128.31,649.80 L1126.73,649.62 L1125.16,649.44 L1123.58,649.25 L1122.01,649.07 L1120.43,648.89 L1118.86,648.71 L1117.28,648.53 L1115.71,648.35 L1114.13,648.17 L1112.56,648.00 L1110.98,647.82 L1109.41,647.65 L1107.83,647.47 L1106.26,647.30 L1104.68,647.12 L1103.11,646.95 L1101.53,646.78 L1099.96,646.61 L1098.38,646.44 L1096.81,646.27 L1095.23,646.10 L1093.66,645.93 L1092.08,645.77 L1090.51,645.60 L1088.93,645.44 L1087.36,645.27 L1085.78,645.11 L1084.21,644.95 L1082.63,644.79 L1081.06,644.63 L1079.48,644.47 L1077.91,644.31 L1076.33,644.15 L1074.76,643.99 L1073.18,643.83 L1071.61,643.68 L1070.03,643.52 L1068.46,643.37 L1066.88,643.22 L1065.30,643.07 L1063.73,642.91 L1062.15,642.76 L1060.58,642.61 L1059.00,642.47 L1057.43,642.32 L1055.85,642.17 L1054.28,642.03 L1052.70,641.88 L1051.13,641.74 L1049.55,641.59 L1047.98,641.45 L1046.40,641.31 L1044.82,641.17 L1043.25,641.03 L1041.67,640.89 L1040.10,640.76 L1038.52,640.62 L1036.95,640.49 L1035.37,640.35 L1033.80,640.22 L1032.22,640.08 L1030.64,639.95 L1029.07,639.82 L1027.49,639.69 L1025.92,639.57 L1024.34,639.44 L1022.77,639.31 L1021.19,639.19 L1019.61,639.06 L1018.04,638.94 L1016.46,638.82 L1014.89,638.70 L1013.31,638.58 L1011.74,638.46 L1010.16,638.34 L1008.58,638.22 L1007.01,638.11 L1005.43,637.99 L1003.86,637.88 L1002.28,637.77 L1000.70,637.66 L999.13,637.55 L997.55,637.44 L995.98,637.33 L994.40,637.22 L992.82,637.12 L991.25,637.01 L989.67,636.91 L988.09,636.81 L986.52,636.71 L984.94,636.61 L983.37,636.51 L981.79,636.41 L980.21,636.32 L978.64,636.22 L977.06,636.13 L975.48,636.04 L973.91,635.95 L972.33,635.86 L970.75,635.77 L969.18,635.68 L967.60,635.60 L966.02,635.51 L964.45,635.43 L962.87,635.35 L961.29,635.27 L959.72,635.19 L958.14,635.11 L956.56,635.04 L954.99,634.96 L953.41,634.89 L951.83,634.82 L950.26,634.75 L948.68,634.68 L947.10,634.61 L945.53,634.54 L943.95,634.48 L942.37,634.42 L940.80,634.35 L939.22,634.29 L937.64,634.23 L936.06,634.18 L934.49,634.12 L932.91,634.07 L931.33,634.01 L929.76,633.96 L928.18,633.91 L926.60,633.87 L925.02,633.82 L923.45,633.77 L921.87,633.73 L920.29,633.69 L918.71,633.65 L917.14,633.61 L915.56,633.57 L913.98,633.54 L912.40,633.50 L910.83,633.47 L909.25,633.44 L907.67,633.41 L906.09,633.39 L904.52,633.36 L902.94,633.34 L901.35,633.32 L899.73,633.30 L898.06,633.28 L896.32,633.27 L894.53,633.25 L892.73,633.24 L890.96,633.23 L889.27,633.22 L887.71,633.22 L886.32,633.21 L885.11,633.21 L884.02,633.20Z" fill="#64acf9" fill-opacity="0.92"/>
<path d="M936.89,924.76 L936.84,923.81 L936.79,922.75 L936.72,921.54 L936.65,920.18 L936.57,918.71 L936.49,917.17 L936.40,915.60 L936.32,914.05 L936.25,912.55 L936.17,911.10 L936.11,909.70 L936.04,908.33 L935.98,906.96 L935.91,905.59 L935.85,904.22 L935.79,902.85 L935.73,901.48 L935.67,900.11 L935.61,898.74 L935.55,897.37 L935.50,896.01 L935.44,894.64 L935.38,893.27 L935.33,891.90 L935.27,890.53 L935.22,889.16 L935.17,887.79 L935.12,886.42 L935.06,885.05 L935.01,883.68 L934.96,882.31 L934.91,880.94 L934.86,879.57 L934.81,878.20 L934.76,876.83 L934.72,875.46 L934.67,874.09 L934.62,872.72 L934.57,871.35 L934.53,869.98 L934.48,868.61 L934.43,867.23 L934.39,865.86 L934.34,864.49 L934.30,863.12 L934.25,861.75 L934.21,860.38 L934.17,859.01 L934.12,857.64 L934.08,856.27 L934.03,854.90 L933.99,853.53 L933.95,852.15 L933.91,850.78 L933.86,849.41 L933.82,848.04 L933.78,846.67 L933.74,845.30 L933.69,843.93 L933.65,842.56 L933.61,841.18 L933.57,839.81 L933.53,838.44 L933.48,837.07 L933.44,835.70 L933.40,834.33 L933.36,832.95 L933.32,831.58 L933.28,830.21 L933.23,828.84 L933.19,827.47 L933.15,826.10 L933.11,824.72 L933.07,823.35 L933.02,821.98 L932.98,820.61 L932.94,819.24 L932.90,817.86 L932.86,816.49 L932.81,815.12 L932.77,813.75 L932.73,812.38 L932.69,811.00 L932.64,809.63 L932.60,808.26 L932.56,806.89 L932.52,805.52 L932.47,804.14 L932.43,802.77 L932.38,801.40 L932.34,800.03 L932.30,798.65 L932.25,797.28 L932.21,795.91 L932.17,794.54 L932.12,793.17 L932.08,791.79 L932.03,790.42 L931.99,789.05 L931.94,787.68 L931.90,786.30 L931.85,784.93 L931.80,783.56 L931.76,782.19 L931.71,780.82 L931.67,779.44 L931.62,778.07 L931.57,776.70 L931.52,775.33 L931.48,773.95 L931.43,772.58 L931.38,771.21 L931.33,769.84 L931.29,768.46 L931.24,767.09 L931.19,765.72 L931.14,764.35 L931.09,762.98 L931.04,761.60 L930.99,760.23 L930.94,758.86 L930.89,757.49 L930.84,756.11 L930.79,754.74 L930.74,753.37 L930.69,752.00 L930.64,750.62 L930.59,749.25 L930.54,747.88 L930.48,746.51 L930.43,745.13 L930.38,743.76 L930.33,742.39 L930.27,741.02 L930.22,739.65 L930.17,738.27 L930.12,736.90 L930.06,735.53 L930.01,734.16 L929.95,732.78 L929.90,731.41 L929.84,730.04 L929.79,728.67 L929.73,727.30 L929.68,725.92 L929.62,724.55 L929.57,723.18 L929.51,721.81 L929.46,720.43 L929.40,719.06 L929.34,717.69 L929.29,716.32 L929.23,714.95 L929.17,713.57 L929.12,712.20 L929.06,710.83 L929.00,709.46 L928.94,708.09 L928.88,706.71 L928.83,705.34 L928.77,703.97 L928.71,702.60 L928.65,701.23 L928.59,699.85 L928.53,698.48 L928.47,697.11 L928.41,695.74 L928.35,694.37 L928.29,692.99 L928.23,691.62 L928.17,690.25 L928.11,688.88 L928.05,687.51 L927.99,686.13 L927.93,684.76 L927.87,683.39 L927.81,682.02 L927.75,680.65 L927.69,679.27 L927.62,677.90 L927.56,676.53 L927.50,675.16 L927.44,673.79 L927.38,672.42 L927.31,671.04 L927.25,669.67 L927.19,668.30 L927.13,666.93 L927.06,665.56 L927.00,664.18 L926.94,662.81 L926.87,661.44 L926.81,660.07 L926.75,658.70 L926.68,657.33 L926.62,655.95 L926.55,654.58 L926.49,653.21 L926.43,651.84 L926.36,650.47 L926.30,649.10 L926.23,647.72 L926.17,646.35 L926.10,644.98 L926.04,643.61 L925.97,642.24 L925.91,640.87 L925.84,639.50 L925.78,638.12 L925.71,636.75 L925.65,635.38 L925.58,634.01 L925.51,632.64 L925.45,631.27 L925.38,629.89 L925.31,628.52 L925.25,627.15 L925.18,625.78 L925.11,624.41 L925.05,623.04 L924.98,621.66 L924.91,620.29 L924.85,618.92 L924.78,617.55 L924.71,616.18 L924.64,614.81 L924.58,613.44 L924.51,612.06 L924.44,610.69 L924.37,609.32 L924.30,607.95 L924.23,606.58 L924.17,605.21 L924.10,603.83 L924.03,602.46 L923.96,601.09 L923.89,599.72 L923.82,598.35 L923.75,596.98 L923.68,595.61 L923.61,594.23 L923.54,592.86 L923.47,591.49 L923.40,590.12 L923.32,588.75 L923.25,587.38 L923.18,586.00 L923.11,584.63 L923.04,583.26 L922.97,581.89 L922.89,580.52 L922.82,579.15 L922.75,577.77 L922.67,576.40 L922.60,575.03 L922.53,573.66 L922.45,572.29 L922.38,570.92 L922.30,569.54 L922.23,568.17 L922.15,566.80 L922.08,565.43 L922.00,564.06 L921.92,562.69 L921.85,561.31 L921.77,559.94 L921.69,558.57 L921.61,557.20 L921.54,555.83 L921.46,554.45 L921.38,553.08 L921.30,551.71 L921.22,550.34 L921.14,548.97 L921.06,547.60 L920.97,546.22 L920.89,544.85 L920.81,543.48 L920.73,542.11 L920.64,540.74 L920.56,539.36 L920.47,537.99 L920.39,536.62 L920.30,535.25 L920.22,533.88 L920.13,532.50 L920.04,531.13 L919.95,529.76 L919.86,528.39 L919.77,527.01 L919.68,525.64 L919.59,524.27 L919.50,522.90 L919.41,521.53 L919.31,520.15 L919.22,518.78 L919.12,517.41 L919.03,516.04 L918.93,514.67 L918.83,513.29 L918.73,511.92 L918.63,510.55 L918.53,509.18 L918.43,507.80 L918.33,506.43 L918.23,505.06 L918.12,503.69 L918.02,502.31 L917.91,500.94 L917.80,499.57 L917.69,498.20 L917.58,496.83 L917.47,495.45 L917.36,494.08 L917.25,492.71 L917.13,491.34 L917.02,489.96 L916.90,488.59 L916.78,487.22 L916.66,485.85 L916.54,484.47 L916.42,483.10 L916.30,481.73 L916.17,480.36 L916.04,478.98 L915.92,477.61 L915.79,476.24 L915.66,474.87 L915.52,473.49 L915.39,472.12 L915.25,470.75 L915.11,469.38 L914.97,468.01 L914.83,466.63 L914.69,465.26 L914.55,463.89 L914.40,462.52 L914.25,461.15 L914.10,459.77 L913.95,458.40 L913.79,457.03 L913.64,455.66 L913.48,454.29 L913.32,452.91 L913.16,451.54 L912.99,450.17 L912.82,448.80 L912.66,447.43 L912.48,446.05 L912.31,444.68 L912.13,443.31 L911.96,441.94 L911.78,440.57 L911.59,439.20 L911.41,437.83 L911.22,436.45 L911.03,435.08 L910.83,433.71 L910.64,432.34 L910.44,430.97 L910.24,429.60 L910.03,428.23 L909.83,426.86 L909.62,425.49 L909.40,424.12 L909.19,422.75 L908.97,421.38 L908.75,420.01 L908.52,418.64 L908.29,417.27 L908.06,415.90 L907.83,414.53 L907.59,413.16 L907.35,411.79 L907.10,410.42 L906.86,409.05 L906.60,407.68 L906.35,406.31 L906.09,404.94 L905.82,403.53 L905.53,402.09 L905.23,400.58 L904.91,399.03 L904.59,397.47 L904.27,395.93 L903.96,394.47 L903.67,393.11 L903.41,391.90 L903.19,390.85 L902.99,389.91 L902.01,390.09 L902.16,391.04 L902.33,392.11 L902.52,393.33 L902.74,394.69 L902.97,396.17 L903.21,397.72 L903.46,399.29 L903.70,400.85 L903.92,402.36 L904.14,403.82 L904.34,405.23 L904.53,406.61 L904.72,407.98 L904.91,409.36 L905.09,410.73 L905.27,412.11 L905.44,413.48 L905.62,414.86 L905.79,416.23 L905.96,417.60 L906.12,418.98 L906.28,420.35 L906.44,421.73 L906.60,423.10 L906.75,424.47 L906.91,425.85 L907.06,427.22 L907.20,428.59 L907.35,429.96 L907.49,431.34 L907.63,432.71 L907.77,434.08 L907.90,435.45 L908.04,436.83 L908.17,438.20 L908.29,439.57 L908.42,440.94 L908.55,442.32 L908.67,443.69 L908.79,445.06 L908.91,446.43 L909.03,447.80 L909.14,449.18 L909.25,450.55 L909.36,451.92 L909.47,453.29 L909.58,454.66 L909.69,456.04 L909.79,457.41 L909.89,458.78 L910.00,460.15 L910.10,461.52 L910.19,462.89 L910.29,464.26 L910.39,465.64 L910.48,467.01 L910.57,468.38 L910.66,469.75 L910.75,471.12 L910.84,472.49 L910.93,473.86 L911.02,475.24 L911.10,476.61 L911.18,477.98 L911.27,479.35 L911.35,480.72 L911.43,482.09 L911.51,483.46 L911.58,484.83 L911.66,486.21 L911.74,487.58 L911.81,488.95 L911.89,490.32 L911.96,491.69 L912.03,493.06 L912.10,494.43 L912.17,495.80 L912.24,497.17 L912.31,498.55 L912.38,499.92 L912.45,501.29 L912.51,502.66 L912.58,504.03 L912.64,505.40 L912.71,506.77 L912.77,508.14 L912.84,509.52 L912.90,510.89 L912.96,512.26 L913.02,513.63 L913.08,515.00 L913.14,516.37 L913.20,517.74 L913.26,519.12 L913.32,520.49 L913.38,521.86 L913.43,523.23 L913.49,524.60 L913.55,525.97 L913.60,527.34 L913.66,528.72 L913.72,530.09 L913.77,531.46 L913.83,532.83 L913.88,534.20 L913.93,535.57 L913.99,536.94 L914.04,538.32 L914.09,539.69 L914.15,541.06 L914.20,542.43 L914.25,543.80 L914.30,545.17 L914.36,546.55 L914.41,547.92 L914.46,549.29 L914.51,550.66 L914.56,552.03 L914.61,553.40 L914.66,554.78 L914.71,556.15 L914.76,557.52 L914.81,558.89 L914.86,560.26 L914.91,561.63 L914.96,563.01 L915.01,564.38 L915.06,565.75 L915.11,567.12 L915.16,568.49 L915.21,569.87 L915.26,571.24 L915.31,572.61 L915.36,573.98 L915.41,575.35 L915.46,576.73 L915.50,578.10 L915.55,579.47 L915.60,580.84 L915.65,582.21 L915.70,583.59 L915.75,584.96 L915.80,586.33 L915.85,587.70 L915.90,589.07 L915.94,590.44 L915.99,591.82 L916.04,593.19 L916.09,594.56 L916.14,595.93 L916.19,597.30 L916.24,598.68 L916.29,600.05 L916.34,601.42 L916.39,602.79 L916.43,604.17 L916.48,605.54 L916.53,606.91 L916.58,608.28 L916.63,609.65 L916.68,611.03 L916.73,612.40 L916.78,613.77 L916.83,615.14 L916.88,616.51 L916.93,617.89 L916.98,619.26 L917.03,620.63 L917.08,622.00 L917.13,623.37 L917.18,624.75 L917.23,626.12 L917.28,627.49 L917.33,628.86 L917.38,630.23 L917.43,631.61 L917.48,632.98 L917.53,634.35 L917.58,635.72 L917.63,637.09 L917.68,638.47 L917.73,639.84 L917.78,641.21 L917.83,642.58 L917.88,643.95 L917.93,645.33 L917.99,646.70 L918.04,648.07 L918.09,649.44 L918.14,650.81 L918.19,652.19 L918.24,653.56 L918.29,654.93 L918.34,656.30 L918.39,657.67 L918.44,659.05 L918.50,660.42 L918.55,661.79 L918.60,663.16 L918.65,664.53 L918.70,665.90 L918.75,667.28 L918.80,668.65 L918.86,670.02 L918.91,671.39 L918.96,672.76 L919.01,674.14 L919.06,675.51 L919.11,676.88 L919.16,678.25 L919.21,679.62 L919.27,680.99 L919.32,682.37 L919.37,683.74 L919.42,685.11 L919.47,686.48 L919.52,687.85 L919.57,689.23 L919.63,690.60 L919.68,691.97 L919.73,693.34 L919.78,694.71 L919.83,696.08 L919.88,697.46 L919.93,698.83 L919.98,700.20 L920.03,701.57 L920.08,702.94 L920.13,704.31 L920.19,705.68 L920.24,707.06 L920.29,708.43 L920.34,709.80 L920.39,711.17 L920.44,712.54 L920.49,713.91 L920.54,715.28 L920.59,716.66 L920.64,718.03 L920.69,719.40 L920.74,720.77 L920.79,722.14 L920.84,723.51 L920.89,724.89 L920.94,726.26 L920.98,727.63 L921.03,729.00 L921.08,730.37 L921.13,731.74 L921.18,733.11 L921.23,734.48 L921.28,735.86 L921.33,737.23 L921.37,738.60 L921.42,739.97 L921.47,741.34 L921.52,742.71 L921.57,744.08 L921.61,745.46 L921.66,746.83 L921.71,748.20 L921.75,749.57 L921.80,750.94 L921.85,752.31 L921.90,753.68 L921.94,755.05 L921.99,756.43 L922.03,757.80 L922.08,759.17 L922.13,760.54 L922.17,761.91 L922.22,763.28 L922.26,764.65 L922.31,766.02 L922.35,767.40 L922.40,768.77 L922.44,770.14 L922.49,771.51 L922.53,772.88 L922.58,774.25 L922.62,775.62 L922.67,776.99 L922.71,778.37 L922.75,779.74 L922.80,781.11 L922.84,782.48 L922.88,783.85 L922.93,785.22 L922.97,786.59 L923.01,787.96 L923.06,789.34 L923.10,790.71 L923.14,792.08 L923.18,793.45 L923.23,794.82 L923.27,796.19 L923.31,797.56 L923.35,798.93 L923.39,800.31 L923.44,801.68 L923.48,803.05 L923.52,804.42 L923.56,805.79 L923.60,807.16 L923.64,808.53 L923.68,809.91 L923.73,811.28 L923.77,812.65 L923.81,814.02 L923.85,815.39 L923.89,816.76 L923.93,818.14 L923.97,819.51 L924.01,820.88 L924.05,822.25 L924.09,823.62 L924.13,824.99 L924.18,826.37 L924.22,827.74 L924.26,829.11 L924.30,830.48 L924.34,831.85 L924.38,833.22 L924.42,834.60 L924.46,835.97 L924.50,837.34 L924.54,838.71 L924.58,840.08 L924.63,841.46 L924.67,842.83 L924.71,844.20 L924.75,845.57 L924.79,846.95 L924.83,848.32 L924.88,849.69 L924.92,851.06 L924.96,852.43 L925.00,853.81 L925.05,855.18 L925.09,856.55 L925.13,857.93 L925.18,859.30 L925.22,860.67 L925.26,862.04 L925.31,863.42 L925.35,864.79 L925.40,866.16 L925.44,867.53 L925.49,868.91 L925.53,870.28 L925.58,871.65 L925.63,873.03 L925.68,874.40 L925.72,875.77 L925.77,877.15 L925.82,878.52 L925.87,879.89 L925.92,881.27 L925.97,882.64 L926.02,884.01 L926.07,885.39 L926.12,886.76 L926.18,888.13 L926.23,889.51 L926.28,890.88 L926.34,892.26 L926.39,893.63 L926.45,895.00 L926.50,896.38 L926.56,897.75 L926.62,899.13 L926.68,900.50 L926.74,901.88 L926.80,903.25 L926.86,904.63 L926.92,906.00 L926.99,907.38 L927.05,908.75 L927.12,910.14 L927.19,911.55 L927.26,913.00 L927.34,914.52 L927.42,916.07 L927.50,917.64 L927.58,919.19 L927.66,920.66 L927.73,922.02 L927.80,923.24 L927.86,924.29 L927.91,925.24Z" fill="#64acf9" fill-opacity="0.92"/>
<path d="M-22.00,398.20 L-9.73,398.22 L2.53,398.25 L14.80,398.30 L27.07,398.37 L39.34,398.45 L51.60,398.54 L63.87,398.63 L76.14,398.66 L88.41,398.66 L100.67,398.65 L112.94,398.62 L125.21,398.57 L137.48,398.51 L149.74,398.44 L162.01,398.36 L174.28,398.27 L186.55,398.18 L198.81,398.10 L211.08,398.02 L223.35,397.95 L235.62,397.89 L247.88,397.85 L260.15,397.82 L272.42,397.81 L284.69,397.82 L296.95,397.83 L309.22,397.86 L321.49,397.90 L333.76,397.94 L346.02,397.99 L358.29,398.03 L370.56,398.08 L382.83,398.11 L395.09,398.14 L407.36,398.16 L419.63,398.17 L431.90,398.17 L444.16,398.18 L456.43,398.17 L468.70,398.18 L480.97,398.18 L493.23,398.19 L505.50,398.20 L508.30,398.30 L509.70,399.40 L508.90,402.20 L509.61,414.36 L510.07,426.53 L509.60,438.69 L509.71,450.85 L509.63,463.02 L508.89,475.18 L508.66,487.35 L509.40,499.51 L509.85,511.67 L509.31,523.84 L508.90,536.00 L509.60,538.80 L508.30,540.20 L505.50,540.00 L493.23,539.96 L480.97,539.90 L468.70,539.83 L456.43,539.74 L444.16,539.66 L431.90,539.60 L419.63,539.55 L407.36,539.58 L395.09,539.63 L382.83,539.69 L370.56,539.77 L358.29,539.84 L346.02,539.91 L333.76,539.98 L321.49,540.04 L309.22,540.08 L296.95,540.11 L284.69,540.13 L272.42,540.13 L260.15,540.13 L247.88,540.11 L235.62,540.09 L223.35,540.08 L211.08,540.06 L198.81,540.05 L186.55,540.05 L174.28,540.06 L162.01,540.08 L149.74,540.12 L137.48,540.16 L125.21,540.20 L112.94,540.25 L100.67,540.30 L88.41,540.34 L76.14,540.37 L63.87,540.37 L51.60,540.32 L39.34,540.25 L27.07,540.18 L14.80,540.11 L2.53,540.06 L-9.73,540.02 L-22.00,540.00 L-24.80,540.10 L-26.40,539.40 L-25.40,536.00 L-25.75,523.84 L-26.17,511.67 L-26.14,499.51 L-25.43,487.35 L-25.12,475.18 L-25.75,463.02 L-26.22,450.85 L-26.05,438.69 L-26.18,426.53 L-26.14,414.36 L-25.40,402.20 L-26.10,399.40 L-24.80,398.00Z" fill="none" stroke="#a0626f" stroke-width="3.3" stroke-linejoin="round"/>
<path d="M436.00,887.40 L448.28,887.47 L460.56,887.54 L472.85,887.62 L485.13,887.69 L497.41,887.74 L509.69,887.77 L521.98,887.75 L534.26,887.69 L546.54,887.62 L558.83,887.54 L571.11,887.46 L583.39,887.38 L595.67,887.32 L607.95,887.26 L620.24,887.21 L632.52,887.17 L644.80,887.15 L657.09,887.15 L669.37,887.15 L681.65,887.17 L693.93,887.19 L706.21,887.21 L718.50,887.24 L730.78,887.27 L743.06,887.29 L755.35,887.30 L767.63,887.31 L779.91,887.30 L792.19,887.29 L804.47,887.27 L816.76,887.24 L829.04,887.20 L841.32,887.16 L853.61,887.15 L865.89,887.17 L878.17,887.20 L890.45,887.24 L902.73,887.29 L915.02,887.35 L927.30,887.40 L930.10,887.50 L931.50,888.60 L930.70,891.40 L930.89,904.24 L931.91,917.08 L931.20,929.92 L931.13,942.76 L930.70,955.60 L931.40,958.40 L930.10,959.80 L927.30,959.60 L915.02,959.61 L902.73,959.63 L890.45,959.65 L878.17,959.68 L865.89,959.72 L853.61,959.77 L841.32,959.82 L829.04,959.84 L816.76,959.85 L804.47,959.85 L792.19,959.84 L779.91,959.81 L767.63,959.76 L755.35,959.70 L743.06,959.63 L730.78,959.55 L718.50,959.47 L706.21,959.38 L693.93,959.30 L681.65,959.23 L669.37,959.18 L657.09,959.14 L644.80,959.12 L632.52,959.11 L620.24,959.13 L607.95,959.17 L595.67,959.22 L583.39,959.28 L571.11,959.35 L558.83,959.42 L546.54,959.49 L534.26,959.55 L521.98,959.61 L509.69,959.65 L497.41,959.66 L485.13,959.66 L472.85,959.65 L460.56,959.63 L448.28,959.61 L436.00,959.60 L433.20,959.70 L431.60,959.00 L432.60,955.60 L432.05,942.76 L432.11,929.92 L431.40,917.08 L431.57,904.24 L432.60,891.40 L431.90,888.60 L433.20,887.20Z" fill="none" stroke="#a0626f" stroke-width="3.3" stroke-linejoin="round" stroke-opacity="0.5"/>



<circle cx="933.50" cy="350.50" r="4.50" fill="#64acf9"/>
<circle cx="884.00" cy="637.70" r="4.60" fill="#64acf9"/>
<circle cx="932.40" cy="925.00" r="4.50" fill="#64acf9"/>
<circle cx="510.4" cy="469.3" r="4.8" fill="#fd9670"/>
<g font-family="'Liberation Sans', sans-serif" font-size="39">
<text x="241.7" y="457.1" text-anchor="middle" fill="none" stroke="#fff" stroke-width="3.6" stroke-linejoin="round" stroke-opacity="0.95">HBK推出定制6-DoF</text>
<text x="241.7" y="457.1" text-anchor="middle" fill="#000" stroke="#000" stroke-width="0.5">HBK推出定制6-DoF</text>
<text x="241.7" y="503.8" text-anchor="middle" fill="none" stroke="#fff" stroke-width="3.6" stroke-linejoin="round" stroke-opacity="0.95">传感<tspan lang="zh-TW">器</tspan>，引领机<tspan lang="zh-TW">器</tspan>人触..</text>
<text x="241.7" y="503.8" text-anchor="middle" fill="#000" stroke="#000" stroke-width="0.5">传感<tspan lang="zh-TW">器</tspan>，引领机<tspan lang="zh-TW">器</tspan>人触..</text>
<text x="682.6" y="362.4" text-anchor="middle" fill="none" stroke="#fff" stroke-width="3.6" stroke-linejoin="round" stroke-opacity="0.95">传感<tspan lang="zh-TW">器</tspan>融合与未来展望</text>
<text x="682.6" y="362.4" text-anchor="middle" fill="#000" stroke="#000" stroke-width="0.5">传感<tspan lang="zh-TW">器</tspan>融合与未来展望</text>
<text x="657.7" y="649.2" text-anchor="middle" fill="none" stroke="#fff" stroke-width="3.6" stroke-linejoin="round" stroke-opacity="0.95">从定制化到实际应用</text>
<text x="657.7" y="649.2" text-anchor="middle" fill="#000" stroke="#000" stroke-width="0.5">从定制化到实际应用</text>
<text x="1167.2" y="378.0" text-anchor="middle" fill="none" stroke="#fff" stroke-width="3.6" stroke-linejoin="round" stroke-opacity="0.95">6-DoF传感<tspan lang="zh-TW">器</tspan>赋予机<tspan lang="zh-TW">器</tspan></text>
<text x="1167.2" y="378.0" text-anchor="middle" fill="#000" stroke="#000" stroke-width="0.5">6-DoF传感<tspan lang="zh-TW">器</tspan>赋予机<tspan lang="zh-TW">器</tspan></text>
<text x="1167.2" y="424.7" text-anchor="middle" fill="none" stroke="#fff" stroke-width="3.6" stroke-linejoin="round" stroke-opacity="0.95">人真实触觉，提升协作..</text>
<text x="1167.2" y="424.7" text-anchor="middle" fill="#000" stroke="#000" stroke-width="0.5">人真实触觉，提升协作..</text>
<text x="488.3" y="934.9" fill="none" stroke="#fff" stroke-width="3.6" stroke-linejoin="round" stroke-opacity="0.95">赋予机<tspan lang="zh-TW">器</tspan>人</text>
<text x="488.3" y="934.9" fill="#000" stroke="#000" stroke-width="0.5">赋予机<tspan lang="zh-TW">器</tspan>人</text>
<text x="700.0" y="934.9" fill="none" stroke="#fff" stroke-width="3.6" stroke-linejoin="round" stroke-opacity="0.95">物理智能</text>
<text x="700.0" y="934.9" fill="#000" stroke="#000" stroke-width="0.5">物理智能</text>
<text x="1563.0" y="161.5" fill="none" stroke="#fff" stroke-width="3.6" stroke-linejoin="round" stroke-opacity="0.95">触觉传感与视觉、AI<tspan dx="-2">融合</tspan></text>
<text x="1563.0" y="161.5" fill="#000" stroke="#000" stroke-width="0.5">触觉传感与视觉、AI<tspan dx="-2">融合</tspan></text>
<text x="1570.0" y="208.3" fill="none" stroke="#fff" stroke-width="3.6" stroke-linejoin="round" stroke-opacity="0.95">，推动机<tspan lang="zh-TW">器</tspan>人智能化..</text>
<text x="1570.0" y="208.3" fill="#000" stroke="#000" stroke-width="0.5">，推动机<tspan lang="zh-TW">器</tspan>人智能化..</text>
<text x="1565.0" y="714.1" fill="none" stroke="#fff" stroke-width="3.6" stroke-linejoin="round" stroke-opacity="0.95">客<tspan lang="zh-TW">户</tspan>需求驱动设计优化，提</text>
<text x="1565.0" y="714.1" fill="#000" stroke="#000" stroke-width="0.5">客<tspan lang="zh-TW">户</tspan>需求驱动设计优化，提</text>
<text x="1594.0" y="760.8" fill="none" stroke="#fff" stroke-width="3.6" stroke-linejoin="round" stroke-opacity="0.95">高机<tspan lang="zh-TW">器</tspan>人系统整合和..</text>
<text x="1594.0" y="760.8" fill="#000" stroke="#000" stroke-width="0.5">高机<tspan lang="zh-TW">器</tspan>人系统整合和..</text>
</g>
<text font-family="'Liberation Serif', serif" font-size="46" x="682.0" y="936.0" fill="none" stroke="#fff" stroke-width="3.6" stroke-linejoin="round" stroke-opacity="0.95">“</text>
<text font-family="'Liberation Serif', serif" font-size="46" x="682.0" y="936.0" fill="#000" stroke="#000" stroke-width="0.9">“</text>
<text font-family="'Liberation Serif', serif" font-size="46" x="857.0" y="936.0" fill="none" stroke="#fff" stroke-width="3.6" stroke-linejoin="round" stroke-opacity="0.95">”</text>
<text font-family="'Liberation Serif', serif" font-size="46" x="857.0" y="936.0" fill="#000" stroke="#000" stroke-width="0.9">”</text>
</svg></body></html>
